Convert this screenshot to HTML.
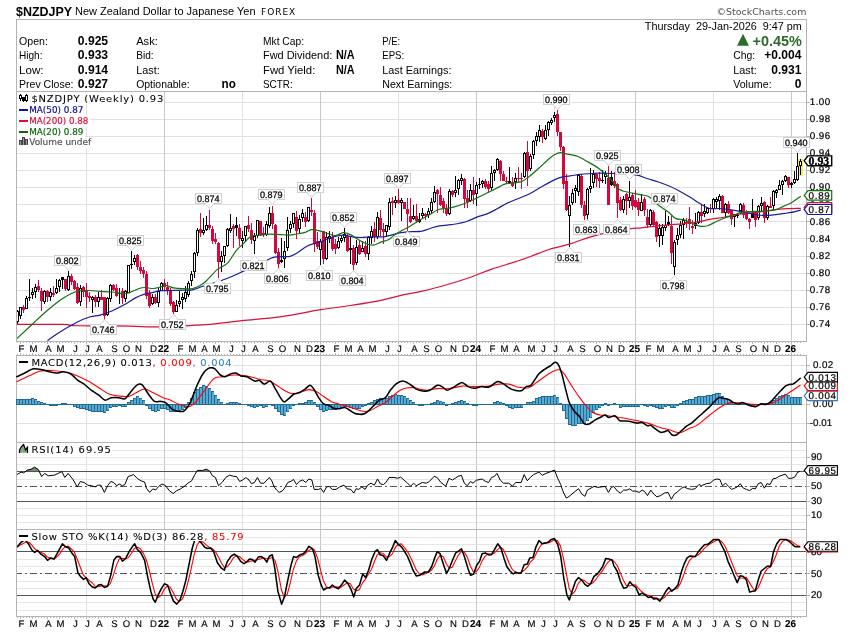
<!DOCTYPE html>
<html><head><meta charset="utf-8"><title>$NZDJPY - StockCharts</title>
<style>html,body{margin:0;padding:0;background:#fff;width:850px;height:633px;overflow:hidden}svg text{white-space:pre}</style></head>
<body>
<svg width="850" height="633" viewBox="0 0 850 633" style="position:absolute;left:0;top:0;will-change:transform">
<g shape-rendering="crispEdges" fill="none" stroke-width="1">
<path d="M17 102.5 H806" stroke="#e1e1e1"/>
<path d="M17 119.5 H806" stroke="#e1e1e1"/>
<path d="M17 136.5 H806" stroke="#e1e1e1"/>
<path d="M17 153.5 H806" stroke="#e1e1e1"/>
<path d="M17 170.5 H806" stroke="#e1e1e1"/>
<path d="M17 187.5 H806" stroke="#e1e1e1"/>
<path d="M17 204.5 H806" stroke="#e1e1e1"/>
<path d="M17 221.5 H806" stroke="#e1e1e1"/>
<path d="M17 238.5 H806" stroke="#e1e1e1"/>
<path d="M17 256.5 H806" stroke="#e1e1e1"/>
<path d="M17 273.5 H806" stroke="#e1e1e1"/>
<path d="M17 290.5 H806" stroke="#e1e1e1"/>
<path d="M17 307.5 H806" stroke="#e1e1e1"/>
<path d="M17 324.5 H806" stroke="#e1e1e1"/>
<path d="M17 365.5 H806" stroke="#e1e1e1"/>
<path d="M17 384.5 H806" stroke="#e1e1e1"/>
<path d="M17 404.5 H806" stroke="#e1e1e1"/>
<path d="M17 423.5 H806" stroke="#e1e1e1"/>
<path d="M17 522.5 H806" stroke="#e6e6e6"/>
<path d="M17 515.5 H806" stroke="#e6e6e6"/>
<path d="M17 508.5 H806" stroke="#e6e6e6"/>
<path d="M17 493.5 H806" stroke="#e6e6e6"/>
<path d="M17 479.5 H806" stroke="#e6e6e6"/>
<path d="M17 464.5 H806" stroke="#e6e6e6"/>
<path d="M17 457.5 H806" stroke="#e6e6e6"/>
<path d="M17 450.5 H806" stroke="#e6e6e6"/>
<path d="M17 610.5 H806" stroke="#e6e6e6"/>
<path d="M17 602.5 H806" stroke="#e6e6e6"/>
<path d="M17 588.5 H806" stroke="#e6e6e6"/>
<path d="M17 581.5 H806" stroke="#e6e6e6"/>
<path d="M17 566.5 H806" stroke="#e6e6e6"/>
<path d="M17 559.5 H806" stroke="#e6e6e6"/>
<path d="M17 544.5 H806" stroke="#e6e6e6"/>
<path d="M17 537.5 H806" stroke="#e6e6e6"/>
<path d="M86.5 92 V616" stroke="#e1e1e1"/>
<path d="M164.5 92 V616" stroke="#c9c9c9"/>
<path d="M242.5 92 V616" stroke="#e1e1e1"/>
<path d="M320.5 92 V616" stroke="#c9c9c9"/>
<path d="M398.5 92 V616" stroke="#e1e1e1"/>
<path d="M476.5 92 V616" stroke="#c9c9c9"/>
<path d="M554.5 92 V616" stroke="#e1e1e1"/>
<path d="M635.5 92 V616" stroke="#c9c9c9"/>
<path d="M713.5 92 V616" stroke="#e1e1e1"/>
<path d="M791.5 92 V616" stroke="#c9c9c9"/>
</g>
<g shape-rendering="crispEdges" fill="none" stroke="#b4b4b4" stroke-width="1">
<path d="M16.5 19.5 H806.5 V341.5 H16.5 Z"/>
<path d="M16.5 355.5 H806.5 V616.5 H16.5 Z"/>
<path d="M16.5 91.5 H806.5"/>
<path d="M16.5 442.5 H806.5"/>
<path d="M16.5 529.5 H806.5"/>
</g>
<path d="M17.5 342 v1 M17.5 355 v-1 M17.5 617 v1 M20.5 342 v2 M20.5 355 v-2 M20.5 617 v2 M23.5 342 v1 M23.5 355 v-1 M23.5 617 v1 M26.5 342 v1 M26.5 355 v-1 M26.5 617 v1 M29.5 342 v1 M29.5 355 v-1 M29.5 617 v1 M32.5 342 v2 M32.5 355 v-2 M32.5 617 v2 M35.5 342 v1 M35.5 355 v-1 M35.5 617 v1 M38.5 342 v1 M38.5 355 v-1 M38.5 617 v1 M41.5 342 v1 M41.5 355 v-1 M41.5 617 v1 M44.5 342 v1 M44.5 355 v-1 M44.5 617 v1 M47.5 342 v2 M47.5 355 v-2 M47.5 617 v2 M50.5 342 v1 M50.5 355 v-1 M50.5 617 v1 M53.5 342 v1 M53.5 355 v-1 M53.5 617 v1 M56.5 342 v1 M56.5 355 v-1 M56.5 617 v1 M59.5 342 v2 M59.5 355 v-2 M59.5 617 v2 M62.5 342 v1 M62.5 355 v-1 M62.5 617 v1 M65.5 342 v1 M65.5 355 v-1 M65.5 617 v1 M68.5 342 v1 M68.5 355 v-1 M68.5 617 v1 M71.5 342 v1 M71.5 355 v-1 M71.5 617 v1 M74.5 342 v2 M74.5 355 v-2 M74.5 617 v2 M77.5 342 v1 M77.5 355 v-1 M77.5 617 v1 M80.5 342 v1 M80.5 355 v-1 M80.5 617 v1 M83.5 342 v1 M83.5 355 v-1 M83.5 617 v1 M86.5 342 v2 M86.5 355 v-2 M86.5 617 v2 M89.5 342 v1 M89.5 355 v-1 M89.5 617 v1 M92.5 342 v1 M92.5 355 v-1 M92.5 617 v1 M95.5 342 v1 M95.5 355 v-1 M95.5 617 v1 M98.5 342 v2 M98.5 355 v-2 M98.5 617 v2 M101.5 342 v1 M101.5 355 v-1 M101.5 617 v1 M104.5 342 v1 M104.5 355 v-1 M104.5 617 v1 M107.5 342 v1 M107.5 355 v-1 M107.5 617 v1 M110.5 342 v1 M110.5 355 v-1 M110.5 617 v1 M113.5 342 v2 M113.5 355 v-2 M113.5 617 v2 M116.5 342 v1 M116.5 355 v-1 M116.5 617 v1 M119.5 342 v1 M119.5 355 v-1 M119.5 617 v1 M122.5 342 v1 M122.5 355 v-1 M122.5 617 v1 M125.5 342 v2 M125.5 355 v-2 M125.5 617 v2 M128.5 342 v1 M128.5 355 v-1 M128.5 617 v1 M131.5 342 v1 M131.5 355 v-1 M131.5 617 v1 M134.5 342 v1 M134.5 355 v-1 M134.5 617 v1 M137.5 342 v2 M137.5 355 v-2 M137.5 617 v2 M140.5 342 v1 M140.5 355 v-1 M140.5 617 v1 M143.5 342 v1 M143.5 355 v-1 M143.5 617 v1 M146.5 342 v1 M146.5 355 v-1 M146.5 617 v1 M149.5 342 v1 M149.5 355 v-1 M149.5 617 v1 M152.5 342 v2 M152.5 355 v-2 M152.5 617 v2 M155.5 342 v1 M155.5 355 v-1 M155.5 617 v1 M158.5 342 v1 M158.5 355 v-1 M158.5 617 v1 M161.5 342 v1 M161.5 355 v-1 M161.5 617 v1 M164.5 342 v2 M164.5 355 v-2 M164.5 617 v2 M167.5 342 v1 M167.5 355 v-1 M167.5 617 v1 M170.5 342 v1 M170.5 355 v-1 M170.5 617 v1 M173.5 342 v1 M173.5 355 v-1 M173.5 617 v1 M176.5 342 v1 M176.5 355 v-1 M176.5 617 v1 M179.5 342 v2 M179.5 355 v-2 M179.5 617 v2 M182.5 342 v1 M182.5 355 v-1 M182.5 617 v1 M185.5 342 v1 M185.5 355 v-1 M185.5 617 v1 M188.5 342 v1 M188.5 355 v-1 M188.5 617 v1 M191.5 342 v2 M191.5 355 v-2 M191.5 617 v2 M194.5 342 v1 M194.5 355 v-1 M194.5 617 v1 M197.5 342 v1 M197.5 355 v-1 M197.5 617 v1 M200.5 342 v1 M200.5 355 v-1 M200.5 617 v1 M203.5 342 v2 M203.5 355 v-2 M203.5 617 v2 M206.5 342 v1 M206.5 355 v-1 M206.5 617 v1 M209.5 342 v1 M209.5 355 v-1 M209.5 617 v1 M212.5 342 v1 M212.5 355 v-1 M212.5 617 v1 M215.5 342 v2 M215.5 355 v-2 M215.5 617 v2 M218.5 342 v1 M218.5 355 v-1 M218.5 617 v1 M221.5 342 v1 M221.5 355 v-1 M221.5 617 v1 M224.5 342 v1 M224.5 355 v-1 M224.5 617 v1 M227.5 342 v1 M227.5 355 v-1 M227.5 617 v1 M230.5 342 v2 M230.5 355 v-2 M230.5 617 v2 M233.5 342 v1 M233.5 355 v-1 M233.5 617 v1 M236.5 342 v1 M236.5 355 v-1 M236.5 617 v1 M239.5 342 v1 M239.5 355 v-1 M239.5 617 v1 M242.5 342 v2 M242.5 355 v-2 M242.5 617 v2 M245.5 342 v1 M245.5 355 v-1 M245.5 617 v1 M248.5 342 v1 M248.5 355 v-1 M248.5 617 v1 M251.5 342 v1 M251.5 355 v-1 M251.5 617 v1 M254.5 342 v2 M254.5 355 v-2 M254.5 617 v2 M257.5 342 v1 M257.5 355 v-1 M257.5 617 v1 M260.5 342 v1 M260.5 355 v-1 M260.5 617 v1 M263.5 342 v1 M263.5 355 v-1 M263.5 617 v1 M266.5 342 v1 M266.5 355 v-1 M266.5 617 v1 M269.5 342 v2 M269.5 355 v-2 M269.5 617 v2 M272.5 342 v1 M272.5 355 v-1 M272.5 617 v1 M275.5 342 v1 M275.5 355 v-1 M275.5 617 v1 M278.5 342 v1 M278.5 355 v-1 M278.5 617 v1 M281.5 342 v2 M281.5 355 v-2 M281.5 617 v2 M284.5 342 v1 M284.5 355 v-1 M284.5 617 v1 M287.5 342 v1 M287.5 355 v-1 M287.5 617 v1 M290.5 342 v1 M290.5 355 v-1 M290.5 617 v1 M293.5 342 v1 M293.5 355 v-1 M293.5 617 v1 M296.5 342 v2 M296.5 355 v-2 M296.5 617 v2 M299.5 342 v1 M299.5 355 v-1 M299.5 617 v1 M302.5 342 v1 M302.5 355 v-1 M302.5 617 v1 M305.5 342 v1 M305.5 355 v-1 M305.5 617 v1 M308.5 342 v2 M308.5 355 v-2 M308.5 617 v2 M311.5 342 v1 M311.5 355 v-1 M311.5 617 v1 M314.5 342 v1 M314.5 355 v-1 M314.5 617 v1 M317.5 342 v1 M317.5 355 v-1 M317.5 617 v1 M320.5 342 v2 M320.5 355 v-2 M320.5 617 v2 M323.5 342 v1 M323.5 355 v-1 M323.5 617 v1 M326.5 342 v1 M326.5 355 v-1 M326.5 617 v1 M329.5 342 v1 M329.5 355 v-1 M329.5 617 v1 M332.5 342 v1 M332.5 355 v-1 M332.5 617 v1 M335.5 342 v2 M335.5 355 v-2 M335.5 617 v2 M338.5 342 v1 M338.5 355 v-1 M338.5 617 v1 M341.5 342 v1 M341.5 355 v-1 M341.5 617 v1 M344.5 342 v1 M344.5 355 v-1 M344.5 617 v1 M347.5 342 v2 M347.5 355 v-2 M347.5 617 v2 M350.5 342 v1 M350.5 355 v-1 M350.5 617 v1 M353.5 342 v1 M353.5 355 v-1 M353.5 617 v1 M356.5 342 v1 M356.5 355 v-1 M356.5 617 v1 M359.5 342 v2 M359.5 355 v-2 M359.5 617 v2 M362.5 342 v1 M362.5 355 v-1 M362.5 617 v1 M365.5 342 v1 M365.5 355 v-1 M365.5 617 v1 M368.5 342 v1 M368.5 355 v-1 M368.5 617 v1 M371.5 342 v2 M371.5 355 v-2 M371.5 617 v2 M374.5 342 v1 M374.5 355 v-1 M374.5 617 v1 M377.5 342 v1 M377.5 355 v-1 M377.5 617 v1 M380.5 342 v1 M380.5 355 v-1 M380.5 617 v1 M383.5 342 v1 M383.5 355 v-1 M383.5 617 v1 M386.5 342 v2 M386.5 355 v-2 M386.5 617 v2 M389.5 342 v1 M389.5 355 v-1 M389.5 617 v1 M392.5 342 v1 M392.5 355 v-1 M392.5 617 v1 M395.5 342 v1 M395.5 355 v-1 M395.5 617 v1 M398.5 342 v2 M398.5 355 v-2 M398.5 617 v2 M401.5 342 v1 M401.5 355 v-1 M401.5 617 v1 M404.5 342 v1 M404.5 355 v-1 M404.5 617 v1 M407.5 342 v1 M407.5 355 v-1 M407.5 617 v1 M410.5 342 v1 M410.5 355 v-1 M410.5 617 v1 M413.5 342 v2 M413.5 355 v-2 M413.5 617 v2 M416.5 342 v1 M416.5 355 v-1 M416.5 617 v1 M419.5 342 v1 M419.5 355 v-1 M419.5 617 v1 M422.5 342 v1 M422.5 355 v-1 M422.5 617 v1 M425.5 342 v2 M425.5 355 v-2 M425.5 617 v2 M428.5 342 v1 M428.5 355 v-1 M428.5 617 v1 M431.5 342 v1 M431.5 355 v-1 M431.5 617 v1 M434.5 342 v1 M434.5 355 v-1 M434.5 617 v1 M437.5 342 v2 M437.5 355 v-2 M437.5 617 v2 M440.5 342 v1 M440.5 355 v-1 M440.5 617 v1 M443.5 342 v1 M443.5 355 v-1 M443.5 617 v1 M446.5 342 v1 M446.5 355 v-1 M446.5 617 v1 M449.5 342 v1 M449.5 355 v-1 M449.5 617 v1 M452.5 342 v2 M452.5 355 v-2 M452.5 617 v2 M455.5 342 v1 M455.5 355 v-1 M455.5 617 v1 M458.5 342 v1 M458.5 355 v-1 M458.5 617 v1 M461.5 342 v1 M461.5 355 v-1 M461.5 617 v1 M464.5 342 v2 M464.5 355 v-2 M464.5 617 v2 M467.5 342 v1 M467.5 355 v-1 M467.5 617 v1 M470.5 342 v1 M470.5 355 v-1 M470.5 617 v1 M473.5 342 v1 M473.5 355 v-1 M473.5 617 v1 M476.5 342 v2 M476.5 355 v-2 M476.5 617 v2 M479.5 342 v1 M479.5 355 v-1 M479.5 617 v1 M482.5 342 v1 M482.5 355 v-1 M482.5 617 v1 M485.5 342 v1 M485.5 355 v-1 M485.5 617 v1 M488.5 342 v1 M488.5 355 v-1 M488.5 617 v1 M491.5 342 v2 M491.5 355 v-2 M491.5 617 v2 M494.5 342 v1 M494.5 355 v-1 M494.5 617 v1 M497.5 342 v1 M497.5 355 v-1 M497.5 617 v1 M500.5 342 v1 M500.5 355 v-1 M500.5 617 v1 M503.5 342 v2 M503.5 355 v-2 M503.5 617 v2 M506.5 342 v1 M506.5 355 v-1 M506.5 617 v1 M509.5 342 v1 M509.5 355 v-1 M509.5 617 v1 M512.5 342 v1 M512.5 355 v-1 M512.5 617 v1 M515.5 342 v2 M515.5 355 v-2 M515.5 617 v2 M518.5 342 v1 M518.5 355 v-1 M518.5 617 v1 M521.5 342 v1 M521.5 355 v-1 M521.5 617 v1 M524.5 342 v1 M524.5 355 v-1 M524.5 617 v1 M527.5 342 v1 M527.5 355 v-1 M527.5 617 v1 M530.5 342 v2 M530.5 355 v-2 M530.5 617 v2 M533.5 342 v1 M533.5 355 v-1 M533.5 617 v1 M536.5 342 v1 M536.5 355 v-1 M536.5 617 v1 M539.5 342 v1 M539.5 355 v-1 M539.5 617 v1 M542.5 342 v2 M542.5 355 v-2 M542.5 617 v2 M545.5 342 v1 M545.5 355 v-1 M545.5 617 v1 M548.5 342 v1 M548.5 355 v-1 M548.5 617 v1 M551.5 342 v1 M551.5 355 v-1 M551.5 617 v1 M554.5 342 v2 M554.5 355 v-2 M554.5 617 v2 M557.5 342 v1 M557.5 355 v-1 M557.5 617 v1 M560.5 342 v1 M560.5 355 v-1 M560.5 617 v1 M563.5 342 v1 M563.5 355 v-1 M563.5 617 v1 M566.5 342 v1 M566.5 355 v-1 M566.5 617 v1 M569.5 342 v2 M569.5 355 v-2 M569.5 617 v2 M572.5 342 v1 M572.5 355 v-1 M572.5 617 v1 M575.5 342 v1 M575.5 355 v-1 M575.5 617 v1 M578.5 342 v1 M578.5 355 v-1 M578.5 617 v1 M581.5 342 v2 M581.5 355 v-2 M581.5 617 v2 M584.5 342 v1 M584.5 355 v-1 M584.5 617 v1 M587.5 342 v1 M587.5 355 v-1 M587.5 617 v1 M590.5 342 v1 M590.5 355 v-1 M590.5 617 v1 M593.5 342 v1 M593.5 355 v-1 M593.5 617 v1 M596.5 342 v2 M596.5 355 v-2 M596.5 617 v2 M599.5 342 v1 M599.5 355 v-1 M599.5 617 v1 M602.5 342 v1 M602.5 355 v-1 M602.5 617 v1 M605.5 342 v1 M605.5 355 v-1 M605.5 617 v1 M608.5 342 v2 M608.5 355 v-2 M608.5 617 v2 M611.5 342 v1 M611.5 355 v-1 M611.5 617 v1 M614.5 342 v1 M614.5 355 v-1 M614.5 617 v1 M617.5 342 v1 M617.5 355 v-1 M617.5 617 v1 M620.5 342 v2 M620.5 355 v-2 M620.5 617 v2 M623.5 342 v1 M623.5 355 v-1 M623.5 617 v1 M626.5 342 v1 M626.5 355 v-1 M626.5 617 v1 M629.5 342 v1 M629.5 355 v-1 M629.5 617 v1 M632.5 342 v1 M632.5 355 v-1 M632.5 617 v1 M635.5 342 v2 M635.5 355 v-2 M635.5 617 v2 M638.5 342 v1 M638.5 355 v-1 M638.5 617 v1 M641.5 342 v1 M641.5 355 v-1 M641.5 617 v1 M644.5 342 v1 M644.5 355 v-1 M644.5 617 v1 M647.5 342 v2 M647.5 355 v-2 M647.5 617 v2 M650.5 342 v1 M650.5 355 v-1 M650.5 617 v1 M653.5 342 v1 M653.5 355 v-1 M653.5 617 v1 M656.5 342 v1 M656.5 355 v-1 M656.5 617 v1 M659.5 342 v2 M659.5 355 v-2 M659.5 617 v2 M662.5 342 v1 M662.5 355 v-1 M662.5 617 v1 M665.5 342 v1 M665.5 355 v-1 M665.5 617 v1 M668.5 342 v1 M668.5 355 v-1 M668.5 617 v1 M671.5 342 v1 M671.5 355 v-1 M671.5 617 v1 M674.5 342 v2 M674.5 355 v-2 M674.5 617 v2 M677.5 342 v1 M677.5 355 v-1 M677.5 617 v1 M680.5 342 v1 M680.5 355 v-1 M680.5 617 v1 M683.5 342 v1 M683.5 355 v-1 M683.5 617 v1 M686.5 342 v2 M686.5 355 v-2 M686.5 617 v2 M689.5 342 v1 M689.5 355 v-1 M689.5 617 v1 M692.5 342 v1 M692.5 355 v-1 M692.5 617 v1 M695.5 342 v1 M695.5 355 v-1 M695.5 617 v1 M698.5 342 v2 M698.5 355 v-2 M698.5 617 v2 M701.5 342 v1 M701.5 355 v-1 M701.5 617 v1 M704.5 342 v1 M704.5 355 v-1 M704.5 617 v1 M707.5 342 v1 M707.5 355 v-1 M707.5 617 v1 M710.5 342 v1 M710.5 355 v-1 M710.5 617 v1 M713.5 342 v2 M713.5 355 v-2 M713.5 617 v2 M716.5 342 v1 M716.5 355 v-1 M716.5 617 v1 M719.5 342 v1 M719.5 355 v-1 M719.5 617 v1 M722.5 342 v1 M722.5 355 v-1 M722.5 617 v1 M725.5 342 v2 M725.5 355 v-2 M725.5 617 v2 M728.5 342 v1 M728.5 355 v-1 M728.5 617 v1 M731.5 342 v1 M731.5 355 v-1 M731.5 617 v1 M734.5 342 v1 M734.5 355 v-1 M734.5 617 v1 M737.5 342 v2 M737.5 355 v-2 M737.5 617 v2 M740.5 342 v1 M740.5 355 v-1 M740.5 617 v1 M743.5 342 v1 M743.5 355 v-1 M743.5 617 v1 M746.5 342 v1 M746.5 355 v-1 M746.5 617 v1 M749.5 342 v1 M749.5 355 v-1 M749.5 617 v1 M752.5 342 v2 M752.5 355 v-2 M752.5 617 v2 M755.5 342 v1 M755.5 355 v-1 M755.5 617 v1 M758.5 342 v1 M758.5 355 v-1 M758.5 617 v1 M761.5 342 v1 M761.5 355 v-1 M761.5 617 v1 M764.5 342 v2 M764.5 355 v-2 M764.5 617 v2 M767.5 342 v1 M767.5 355 v-1 M767.5 617 v1 M770.5 342 v1 M770.5 355 v-1 M770.5 617 v1 M773.5 342 v1 M773.5 355 v-1 M773.5 617 v1 M776.5 342 v2 M776.5 355 v-2 M776.5 617 v2 M779.5 342 v1 M779.5 355 v-1 M779.5 617 v1 M782.5 342 v1 M782.5 355 v-1 M782.5 617 v1 M785.5 342 v1 M785.5 355 v-1 M785.5 617 v1 M788.5 342 v1 M788.5 355 v-1 M788.5 617 v1 M791.5 342 v2 M791.5 355 v-2 M791.5 617 v2 M794.5 342 v1 M794.5 355 v-1 M794.5 617 v1 M797.5 342 v1 M797.5 355 v-1 M797.5 617 v1 M800.5 342 v1 M800.5 355 v-1 M800.5 617 v1" stroke="#b4b4b4" stroke-width="1" shape-rendering="crispEdges"/>
<path d="M807 102.5 h3 M807 119.5 h3 M807 136.5 h3 M807 153.5 h3 M807 170.5 h3 M807 187.5 h3 M807 204.5 h3 M807 221.5 h3 M807 238.5 h3 M807 256.5 h3 M807 273.5 h3 M807 290.5 h3 M807 307.5 h3 M807 324.5 h3 M807 365.5 h3 M807 384.5 h3 M807 404.5 h3 M807 423.5 h3 M807 457.5 h3 M807 471.5 h3 M807 486.5 h3 M807 501.5 h3 M807 515.5 h3 M807 552.5 h3 M807 573.5 h3 M807 595.5 h3" stroke="#b4b4b4" stroke-width="1" shape-rendering="crispEdges"/>
<rect x="798" y="159" width="5" height="17" fill="#f5ee5a" shape-rendering="crispEdges"/>
<clipPath id="cc"><rect x="17" y="92" width="789" height="249"/></clipPath>
<g shape-rendering="crispEdges" clip-path="url(#cc)">
<rect x="17" y="310" width="1" height="14" fill="#000"/>
<rect x="16" y="311" width="3" height="11" fill="#000"/>
<rect x="17" y="312" width="1" height="9" fill="#fff"/>
<rect x="20" y="307" width="1" height="12" fill="#000"/>
<rect x="19" y="307" width="3" height="9" fill="#000"/>
<rect x="20" y="308" width="1" height="7" fill="#fff"/>
<rect x="23" y="305" width="1" height="8" fill="#d4083c"/>
<rect x="22" y="307" width="3" height="3" fill="#d4083c"/>
<rect x="26" y="296" width="1" height="13" fill="#000"/>
<rect x="25" y="298" width="3" height="11" fill="#000"/>
<rect x="26" y="299" width="1" height="9" fill="#fff"/>
<rect x="29" y="279" width="1" height="22" fill="#000"/>
<rect x="28" y="297" width="3" height="1" fill="#000"/>
<rect x="32" y="288" width="1" height="11" fill="#000"/>
<rect x="31" y="292" width="3" height="3" fill="#000"/>
<rect x="32" y="293" width="1" height="1" fill="#fff"/>
<rect x="35" y="284" width="1" height="14" fill="#000"/>
<rect x="34" y="287" width="3" height="5" fill="#000"/>
<rect x="35" y="288" width="1" height="3" fill="#fff"/>
<rect x="38" y="280" width="1" height="12" fill="#d4083c"/>
<rect x="37" y="286" width="3" height="4" fill="#d4083c"/>
<rect x="41" y="288" width="1" height="23" fill="#d4083c"/>
<rect x="40" y="291" width="3" height="10" fill="#d4083c"/>
<rect x="44" y="290" width="1" height="14" fill="#000"/>
<rect x="43" y="291" width="3" height="11" fill="#000"/>
<rect x="44" y="292" width="1" height="9" fill="#fff"/>
<rect x="47" y="290" width="1" height="12" fill="#d4083c"/>
<rect x="46" y="291" width="3" height="6" fill="#d4083c"/>
<rect x="50" y="288" width="1" height="13" fill="#000"/>
<rect x="49" y="292" width="3" height="5" fill="#000"/>
<rect x="50" y="293" width="1" height="3" fill="#fff"/>
<rect x="53" y="286" width="1" height="11" fill="#d4083c"/>
<rect x="52" y="293" width="3" height="2" fill="#d4083c"/>
<rect x="56" y="279" width="1" height="15" fill="#000"/>
<rect x="55" y="288" width="3" height="5" fill="#000"/>
<rect x="56" y="289" width="1" height="3" fill="#fff"/>
<rect x="59" y="279" width="1" height="13" fill="#000"/>
<rect x="58" y="280" width="3" height="7" fill="#000"/>
<rect x="59" y="281" width="1" height="5" fill="#fff"/>
<rect x="62" y="277" width="1" height="12" fill="#000"/>
<rect x="61" y="277" width="3" height="3" fill="#000"/>
<rect x="65" y="279" width="1" height="12" fill="#d4083c"/>
<rect x="64" y="279" width="3" height="10" fill="#d4083c"/>
<rect x="68" y="271" width="1" height="20" fill="#000"/>
<rect x="67" y="276" width="3" height="14" fill="#000"/>
<rect x="68" y="277" width="1" height="12" fill="#fff"/>
<rect x="71" y="274" width="1" height="11" fill="#d4083c"/>
<rect x="70" y="276" width="3" height="6" fill="#d4083c"/>
<rect x="74" y="280" width="1" height="10" fill="#d4083c"/>
<rect x="73" y="281" width="3" height="8" fill="#d4083c"/>
<rect x="77" y="283" width="1" height="21" fill="#d4083c"/>
<rect x="76" y="287" width="3" height="16" fill="#d4083c"/>
<rect x="80" y="285" width="1" height="21" fill="#000"/>
<rect x="79" y="288" width="3" height="14" fill="#000"/>
<rect x="80" y="289" width="1" height="12" fill="#fff"/>
<rect x="83" y="286" width="1" height="11" fill="#d4083c"/>
<rect x="82" y="287" width="3" height="5" fill="#d4083c"/>
<rect x="86" y="283" width="1" height="25" fill="#d4083c"/>
<rect x="85" y="291" width="3" height="6" fill="#d4083c"/>
<rect x="89" y="292" width="1" height="10" fill="#d4083c"/>
<rect x="88" y="296" width="3" height="2" fill="#d4083c"/>
<rect x="92" y="296" width="1" height="17" fill="#000"/>
<rect x="91" y="297" width="3" height="3" fill="#000"/>
<rect x="92" y="298" width="1" height="1" fill="#fff"/>
<rect x="95" y="295" width="1" height="12" fill="#d4083c"/>
<rect x="94" y="297" width="3" height="5" fill="#d4083c"/>
<rect x="98" y="292" width="1" height="15" fill="#000"/>
<rect x="97" y="297" width="3" height="5" fill="#000"/>
<rect x="98" y="298" width="1" height="3" fill="#fff"/>
<rect x="101" y="290" width="1" height="10" fill="#d4083c"/>
<rect x="100" y="297" width="3" height="3" fill="#d4083c"/>
<rect x="104" y="297" width="1" height="23" fill="#d4083c"/>
<rect x="103" y="297" width="3" height="19" fill="#d4083c"/>
<rect x="107" y="297" width="1" height="19" fill="#000"/>
<rect x="106" y="298" width="3" height="17" fill="#000"/>
<rect x="107" y="299" width="1" height="15" fill="#fff"/>
<rect x="110" y="284" width="1" height="18" fill="#000"/>
<rect x="109" y="285" width="3" height="14" fill="#000"/>
<rect x="110" y="286" width="1" height="12" fill="#fff"/>
<rect x="113" y="284" width="1" height="7" fill="#d4083c"/>
<rect x="112" y="285" width="3" height="5" fill="#d4083c"/>
<rect x="116" y="284" width="1" height="13" fill="#d4083c"/>
<rect x="115" y="288" width="3" height="8" fill="#d4083c"/>
<rect x="119" y="288" width="1" height="16" fill="#000"/>
<rect x="118" y="293" width="3" height="1" fill="#000"/>
<rect x="122" y="288" width="1" height="16" fill="#d4083c"/>
<rect x="121" y="291" width="3" height="7" fill="#d4083c"/>
<rect x="125" y="290" width="1" height="12" fill="#000"/>
<rect x="124" y="291" width="3" height="8" fill="#000"/>
<rect x="125" y="292" width="1" height="6" fill="#fff"/>
<rect x="128" y="265" width="1" height="28" fill="#000"/>
<rect x="127" y="265" width="3" height="28" fill="#000"/>
<rect x="128" y="266" width="1" height="26" fill="#fff"/>
<rect x="131" y="251" width="1" height="18" fill="#000"/>
<rect x="130" y="264" width="3" height="1" fill="#000"/>
<rect x="134" y="255" width="1" height="10" fill="#000"/>
<rect x="133" y="258" width="3" height="4" fill="#000"/>
<rect x="134" y="259" width="1" height="2" fill="#fff"/>
<rect x="137" y="254" width="1" height="16" fill="#d4083c"/>
<rect x="136" y="255" width="3" height="12" fill="#d4083c"/>
<rect x="140" y="261" width="1" height="13" fill="#d4083c"/>
<rect x="139" y="267" width="3" height="4" fill="#d4083c"/>
<rect x="143" y="267" width="1" height="11" fill="#d4083c"/>
<rect x="142" y="270" width="3" height="4" fill="#d4083c"/>
<rect x="146" y="271" width="1" height="28" fill="#d4083c"/>
<rect x="145" y="274" width="3" height="22" fill="#d4083c"/>
<rect x="149" y="290" width="1" height="18" fill="#d4083c"/>
<rect x="148" y="293" width="3" height="13" fill="#d4083c"/>
<rect x="152" y="294" width="1" height="11" fill="#000"/>
<rect x="151" y="297" width="3" height="7" fill="#000"/>
<rect x="152" y="298" width="1" height="5" fill="#fff"/>
<rect x="155" y="294" width="1" height="10" fill="#d4083c"/>
<rect x="154" y="297" width="3" height="6" fill="#d4083c"/>
<rect x="158" y="287" width="1" height="20" fill="#000"/>
<rect x="157" y="291" width="3" height="12" fill="#000"/>
<rect x="158" y="292" width="1" height="10" fill="#fff"/>
<rect x="161" y="282" width="1" height="9" fill="#000"/>
<rect x="160" y="283" width="3" height="8" fill="#000"/>
<rect x="161" y="284" width="1" height="6" fill="#fff"/>
<rect x="164" y="279" width="1" height="12" fill="#d4083c"/>
<rect x="163" y="283" width="3" height="4" fill="#d4083c"/>
<rect x="167" y="282" width="1" height="13" fill="#d4083c"/>
<rect x="166" y="287" width="3" height="4" fill="#d4083c"/>
<rect x="170" y="288" width="1" height="18" fill="#d4083c"/>
<rect x="169" y="291" width="3" height="13" fill="#d4083c"/>
<rect x="173" y="301" width="1" height="13" fill="#d4083c"/>
<rect x="172" y="302" width="3" height="10" fill="#d4083c"/>
<rect x="176" y="300" width="1" height="12" fill="#000"/>
<rect x="175" y="305" width="3" height="7" fill="#000"/>
<rect x="176" y="306" width="1" height="5" fill="#fff"/>
<rect x="179" y="291" width="1" height="16" fill="#000"/>
<rect x="178" y="301" width="3" height="3" fill="#000"/>
<rect x="179" y="302" width="1" height="1" fill="#fff"/>
<rect x="182" y="293" width="1" height="16" fill="#000"/>
<rect x="181" y="297" width="3" height="3" fill="#000"/>
<rect x="182" y="298" width="1" height="1" fill="#fff"/>
<rect x="185" y="286" width="1" height="16" fill="#000"/>
<rect x="184" y="292" width="3" height="7" fill="#000"/>
<rect x="185" y="293" width="1" height="5" fill="#fff"/>
<rect x="188" y="281" width="1" height="16" fill="#000"/>
<rect x="187" y="283" width="3" height="12" fill="#000"/>
<rect x="188" y="284" width="1" height="10" fill="#fff"/>
<rect x="191" y="271" width="1" height="15" fill="#000"/>
<rect x="190" y="274" width="3" height="7" fill="#000"/>
<rect x="191" y="275" width="1" height="5" fill="#fff"/>
<rect x="194" y="252" width="1" height="26" fill="#000"/>
<rect x="193" y="253" width="3" height="19" fill="#000"/>
<rect x="194" y="254" width="1" height="17" fill="#fff"/>
<rect x="197" y="228" width="1" height="28" fill="#000"/>
<rect x="196" y="230" width="3" height="23" fill="#000"/>
<rect x="197" y="231" width="1" height="21" fill="#fff"/>
<rect x="200" y="213" width="1" height="24" fill="#d4083c"/>
<rect x="199" y="229" width="3" height="4" fill="#d4083c"/>
<rect x="203" y="218" width="1" height="17" fill="#000"/>
<rect x="202" y="230" width="3" height="3" fill="#000"/>
<rect x="203" y="231" width="1" height="1" fill="#fff"/>
<rect x="206" y="216" width="1" height="15" fill="#000"/>
<rect x="205" y="225" width="3" height="5" fill="#000"/>
<rect x="206" y="226" width="1" height="3" fill="#fff"/>
<rect x="209" y="210" width="1" height="20" fill="#d4083c"/>
<rect x="208" y="225" width="3" height="3" fill="#d4083c"/>
<rect x="212" y="226" width="1" height="18" fill="#d4083c"/>
<rect x="211" y="229" width="3" height="12" fill="#d4083c"/>
<rect x="215" y="233" width="1" height="11" fill="#d4083c"/>
<rect x="214" y="239" width="3" height="3" fill="#d4083c"/>
<rect x="218" y="242" width="1" height="36" fill="#d4083c"/>
<rect x="217" y="243" width="3" height="19" fill="#d4083c"/>
<rect x="221" y="251" width="1" height="21" fill="#000"/>
<rect x="220" y="256" width="3" height="6" fill="#000"/>
<rect x="221" y="257" width="1" height="4" fill="#fff"/>
<rect x="224" y="246" width="1" height="17" fill="#000"/>
<rect x="223" y="246" width="3" height="10" fill="#000"/>
<rect x="224" y="247" width="1" height="8" fill="#fff"/>
<rect x="227" y="228" width="1" height="19" fill="#000"/>
<rect x="226" y="229" width="3" height="17" fill="#000"/>
<rect x="227" y="230" width="1" height="15" fill="#fff"/>
<rect x="230" y="214" width="1" height="19" fill="#000"/>
<rect x="229" y="228" width="3" height="3" fill="#000"/>
<rect x="230" y="229" width="1" height="1" fill="#fff"/>
<rect x="233" y="224" width="1" height="24" fill="#d4083c"/>
<rect x="232" y="226" width="3" height="3" fill="#d4083c"/>
<rect x="236" y="217" width="1" height="19" fill="#000"/>
<rect x="235" y="225" width="3" height="3" fill="#000"/>
<rect x="239" y="224" width="1" height="22" fill="#d4083c"/>
<rect x="238" y="228" width="3" height="11" fill="#d4083c"/>
<rect x="242" y="231" width="1" height="17" fill="#000"/>
<rect x="241" y="238" width="3" height="3" fill="#000"/>
<rect x="242" y="239" width="1" height="1" fill="#fff"/>
<rect x="245" y="226" width="1" height="15" fill="#000"/>
<rect x="244" y="226" width="3" height="10" fill="#000"/>
<rect x="245" y="227" width="1" height="8" fill="#fff"/>
<rect x="248" y="216" width="1" height="16" fill="#d4083c"/>
<rect x="247" y="225" width="3" height="4" fill="#d4083c"/>
<rect x="251" y="223" width="1" height="21" fill="#d4083c"/>
<rect x="250" y="230" width="3" height="10" fill="#d4083c"/>
<rect x="254" y="233" width="1" height="21" fill="#000"/>
<rect x="253" y="236" width="3" height="5" fill="#000"/>
<rect x="254" y="237" width="1" height="3" fill="#fff"/>
<rect x="257" y="220" width="1" height="18" fill="#000"/>
<rect x="256" y="220" width="3" height="16" fill="#000"/>
<rect x="257" y="221" width="1" height="14" fill="#fff"/>
<rect x="260" y="221" width="1" height="15" fill="#d4083c"/>
<rect x="259" y="221" width="3" height="14" fill="#d4083c"/>
<rect x="263" y="227" width="1" height="10" fill="#d4083c"/>
<rect x="262" y="233" width="3" height="2" fill="#d4083c"/>
<rect x="266" y="221" width="1" height="15" fill="#000"/>
<rect x="265" y="224" width="3" height="11" fill="#000"/>
<rect x="266" y="225" width="1" height="9" fill="#fff"/>
<rect x="269" y="207" width="1" height="21" fill="#000"/>
<rect x="268" y="213" width="3" height="13" fill="#000"/>
<rect x="269" y="214" width="1" height="11" fill="#fff"/>
<rect x="272" y="206" width="1" height="23" fill="#d4083c"/>
<rect x="271" y="213" width="3" height="11" fill="#d4083c"/>
<rect x="275" y="224" width="1" height="30" fill="#d4083c"/>
<rect x="274" y="225" width="3" height="28" fill="#d4083c"/>
<rect x="278" y="248" width="1" height="21" fill="#d4083c"/>
<rect x="277" y="252" width="3" height="12" fill="#d4083c"/>
<rect x="281" y="238" width="1" height="25" fill="#000"/>
<rect x="280" y="260" width="3" height="2" fill="#000"/>
<rect x="284" y="241" width="1" height="27" fill="#000"/>
<rect x="283" y="251" width="3" height="8" fill="#000"/>
<rect x="284" y="252" width="1" height="6" fill="#fff"/>
<rect x="287" y="217" width="1" height="34" fill="#000"/>
<rect x="286" y="230" width="3" height="18" fill="#000"/>
<rect x="287" y="231" width="1" height="16" fill="#fff"/>
<rect x="290" y="221" width="1" height="12" fill="#000"/>
<rect x="289" y="224" width="3" height="5" fill="#000"/>
<rect x="290" y="225" width="1" height="3" fill="#fff"/>
<rect x="293" y="213" width="1" height="15" fill="#000"/>
<rect x="292" y="213" width="3" height="11" fill="#000"/>
<rect x="293" y="214" width="1" height="9" fill="#fff"/>
<rect x="296" y="211" width="1" height="28" fill="#d4083c"/>
<rect x="295" y="217" width="3" height="14" fill="#d4083c"/>
<rect x="299" y="215" width="1" height="18" fill="#000"/>
<rect x="298" y="219" width="3" height="10" fill="#000"/>
<rect x="299" y="220" width="1" height="8" fill="#fff"/>
<rect x="302" y="209" width="1" height="13" fill="#000"/>
<rect x="301" y="213" width="3" height="5" fill="#000"/>
<rect x="302" y="214" width="1" height="3" fill="#fff"/>
<rect x="305" y="212" width="1" height="15" fill="#d4083c"/>
<rect x="304" y="217" width="3" height="5" fill="#d4083c"/>
<rect x="308" y="207" width="1" height="15" fill="#000"/>
<rect x="307" y="207" width="3" height="14" fill="#000"/>
<rect x="308" y="208" width="1" height="12" fill="#fff"/>
<rect x="311" y="198" width="1" height="18" fill="#d4083c"/>
<rect x="310" y="210" width="3" height="2" fill="#d4083c"/>
<rect x="314" y="210" width="1" height="42" fill="#d4083c"/>
<rect x="313" y="213" width="3" height="31" fill="#d4083c"/>
<rect x="317" y="232" width="1" height="17" fill="#d4083c"/>
<rect x="316" y="241" width="3" height="6" fill="#d4083c"/>
<rect x="320" y="239" width="1" height="26" fill="#000"/>
<rect x="319" y="241" width="3" height="9" fill="#000"/>
<rect x="320" y="242" width="1" height="7" fill="#fff"/>
<rect x="323" y="231" width="1" height="33" fill="#d4083c"/>
<rect x="322" y="231" width="3" height="28" fill="#d4083c"/>
<rect x="326" y="232" width="1" height="28" fill="#000"/>
<rect x="325" y="237" width="3" height="22" fill="#000"/>
<rect x="326" y="238" width="1" height="20" fill="#fff"/>
<rect x="329" y="231" width="1" height="12" fill="#000"/>
<rect x="328" y="236" width="3" height="3" fill="#000"/>
<rect x="329" y="237" width="1" height="1" fill="#fff"/>
<rect x="332" y="232" width="1" height="19" fill="#d4083c"/>
<rect x="331" y="237" width="3" height="12" fill="#d4083c"/>
<rect x="335" y="239" width="1" height="15" fill="#d4083c"/>
<rect x="334" y="244" width="3" height="5" fill="#d4083c"/>
<rect x="338" y="237" width="1" height="12" fill="#000"/>
<rect x="337" y="241" width="3" height="7" fill="#000"/>
<rect x="338" y="242" width="1" height="5" fill="#fff"/>
<rect x="341" y="235" width="1" height="8" fill="#000"/>
<rect x="340" y="238" width="3" height="3" fill="#000"/>
<rect x="341" y="239" width="1" height="1" fill="#fff"/>
<rect x="344" y="228" width="1" height="14" fill="#000"/>
<rect x="343" y="234" width="3" height="4" fill="#000"/>
<rect x="344" y="235" width="1" height="2" fill="#fff"/>
<rect x="347" y="234" width="1" height="18" fill="#d4083c"/>
<rect x="346" y="236" width="3" height="15" fill="#d4083c"/>
<rect x="350" y="237" width="1" height="27" fill="#000"/>
<rect x="349" y="248" width="3" height="2" fill="#000"/>
<rect x="353" y="245" width="1" height="25" fill="#d4083c"/>
<rect x="352" y="248" width="3" height="17" fill="#d4083c"/>
<rect x="356" y="240" width="1" height="25" fill="#000"/>
<rect x="355" y="247" width="3" height="16" fill="#000"/>
<rect x="356" y="248" width="1" height="14" fill="#fff"/>
<rect x="359" y="241" width="1" height="14" fill="#d4083c"/>
<rect x="358" y="245" width="3" height="9" fill="#d4083c"/>
<rect x="362" y="241" width="1" height="11" fill="#000"/>
<rect x="361" y="248" width="3" height="4" fill="#000"/>
<rect x="362" y="249" width="1" height="2" fill="#fff"/>
<rect x="365" y="241" width="1" height="16" fill="#d4083c"/>
<rect x="364" y="246" width="3" height="8" fill="#d4083c"/>
<rect x="368" y="236" width="1" height="24" fill="#000"/>
<rect x="367" y="237" width="3" height="17" fill="#000"/>
<rect x="368" y="238" width="1" height="15" fill="#fff"/>
<rect x="371" y="226" width="1" height="18" fill="#000"/>
<rect x="370" y="231" width="3" height="7" fill="#000"/>
<rect x="371" y="232" width="1" height="5" fill="#fff"/>
<rect x="374" y="222" width="1" height="20" fill="#d4083c"/>
<rect x="373" y="229" width="3" height="8" fill="#d4083c"/>
<rect x="377" y="212" width="1" height="27" fill="#000"/>
<rect x="376" y="217" width="3" height="20" fill="#000"/>
<rect x="377" y="218" width="1" height="18" fill="#fff"/>
<rect x="380" y="210" width="1" height="26" fill="#d4083c"/>
<rect x="379" y="218" width="3" height="12" fill="#d4083c"/>
<rect x="383" y="223" width="1" height="21" fill="#d4083c"/>
<rect x="382" y="229" width="3" height="3" fill="#d4083c"/>
<rect x="386" y="225" width="1" height="12" fill="#000"/>
<rect x="385" y="225" width="3" height="7" fill="#000"/>
<rect x="386" y="226" width="1" height="5" fill="#fff"/>
<rect x="389" y="198" width="1" height="32" fill="#000"/>
<rect x="388" y="202" width="3" height="25" fill="#000"/>
<rect x="389" y="203" width="1" height="23" fill="#fff"/>
<rect x="392" y="197" width="1" height="18" fill="#d4083c"/>
<rect x="391" y="201" width="3" height="2" fill="#d4083c"/>
<rect x="395" y="196" width="1" height="12" fill="#000"/>
<rect x="394" y="200" width="3" height="3" fill="#000"/>
<rect x="395" y="201" width="1" height="1" fill="#fff"/>
<rect x="398" y="189" width="1" height="15" fill="#d4083c"/>
<rect x="397" y="200" width="3" height="3" fill="#d4083c"/>
<rect x="401" y="198" width="1" height="23" fill="#000"/>
<rect x="400" y="200" width="3" height="3" fill="#000"/>
<rect x="401" y="201" width="1" height="1" fill="#fff"/>
<rect x="404" y="202" width="1" height="7" fill="#d4083c"/>
<rect x="403" y="202" width="3" height="7" fill="#d4083c"/>
<rect x="407" y="198" width="1" height="33" fill="#d4083c"/>
<rect x="406" y="209" width="3" height="5" fill="#d4083c"/>
<rect x="410" y="198" width="1" height="25" fill="#d4083c"/>
<rect x="409" y="216" width="3" height="6" fill="#d4083c"/>
<rect x="413" y="205" width="1" height="15" fill="#000"/>
<rect x="412" y="216" width="3" height="3" fill="#000"/>
<rect x="413" y="217" width="1" height="1" fill="#fff"/>
<rect x="416" y="204" width="1" height="19" fill="#d4083c"/>
<rect x="415" y="216" width="3" height="5" fill="#d4083c"/>
<rect x="419" y="213" width="1" height="10" fill="#000"/>
<rect x="418" y="219" width="3" height="3" fill="#000"/>
<rect x="419" y="220" width="1" height="1" fill="#fff"/>
<rect x="422" y="208" width="1" height="10" fill="#000"/>
<rect x="421" y="213" width="3" height="3" fill="#000"/>
<rect x="422" y="214" width="1" height="1" fill="#fff"/>
<rect x="425" y="213" width="1" height="7" fill="#d4083c"/>
<rect x="424" y="214" width="3" height="2" fill="#d4083c"/>
<rect x="428" y="208" width="1" height="10" fill="#000"/>
<rect x="427" y="211" width="3" height="4" fill="#000"/>
<rect x="428" y="212" width="1" height="2" fill="#fff"/>
<rect x="431" y="198" width="1" height="16" fill="#000"/>
<rect x="430" y="202" width="3" height="9" fill="#000"/>
<rect x="431" y="203" width="1" height="7" fill="#fff"/>
<rect x="434" y="186" width="1" height="17" fill="#000"/>
<rect x="433" y="192" width="3" height="10" fill="#000"/>
<rect x="434" y="193" width="1" height="8" fill="#fff"/>
<rect x="437" y="189" width="1" height="24" fill="#d4083c"/>
<rect x="436" y="190" width="3" height="4" fill="#d4083c"/>
<rect x="440" y="187" width="1" height="19" fill="#d4083c"/>
<rect x="439" y="195" width="3" height="10" fill="#d4083c"/>
<rect x="443" y="198" width="1" height="15" fill="#d4083c"/>
<rect x="442" y="201" width="3" height="7" fill="#d4083c"/>
<rect x="446" y="204" width="1" height="12" fill="#d4083c"/>
<rect x="445" y="209" width="3" height="5" fill="#d4083c"/>
<rect x="449" y="189" width="1" height="26" fill="#000"/>
<rect x="448" y="191" width="3" height="23" fill="#000"/>
<rect x="449" y="192" width="1" height="21" fill="#fff"/>
<rect x="452" y="190" width="1" height="7" fill="#d4083c"/>
<rect x="451" y="191" width="3" height="4" fill="#d4083c"/>
<rect x="455" y="176" width="1" height="21" fill="#000"/>
<rect x="454" y="190" width="3" height="3" fill="#000"/>
<rect x="455" y="191" width="1" height="1" fill="#fff"/>
<rect x="458" y="179" width="1" height="16" fill="#000"/>
<rect x="457" y="180" width="3" height="9" fill="#000"/>
<rect x="458" y="181" width="1" height="7" fill="#fff"/>
<rect x="461" y="174" width="1" height="11" fill="#000"/>
<rect x="460" y="178" width="3" height="3" fill="#000"/>
<rect x="461" y="179" width="1" height="1" fill="#fff"/>
<rect x="464" y="178" width="1" height="30" fill="#d4083c"/>
<rect x="463" y="179" width="3" height="20" fill="#d4083c"/>
<rect x="467" y="190" width="1" height="18" fill="#d4083c"/>
<rect x="466" y="198" width="3" height="4" fill="#d4083c"/>
<rect x="470" y="184" width="1" height="18" fill="#000"/>
<rect x="469" y="190" width="3" height="11" fill="#000"/>
<rect x="470" y="191" width="1" height="9" fill="#fff"/>
<rect x="473" y="177" width="1" height="27" fill="#d4083c"/>
<rect x="472" y="190" width="3" height="5" fill="#d4083c"/>
<rect x="476" y="182" width="1" height="24" fill="#000"/>
<rect x="475" y="185" width="3" height="9" fill="#000"/>
<rect x="476" y="186" width="1" height="7" fill="#fff"/>
<rect x="479" y="178" width="1" height="11" fill="#000"/>
<rect x="478" y="184" width="3" height="1" fill="#000"/>
<rect x="482" y="180" width="1" height="8" fill="#000"/>
<rect x="481" y="181" width="3" height="3" fill="#000"/>
<rect x="482" y="182" width="1" height="1" fill="#fff"/>
<rect x="485" y="179" width="1" height="10" fill="#d4083c"/>
<rect x="484" y="181" width="3" height="6" fill="#d4083c"/>
<rect x="488" y="181" width="1" height="12" fill="#d4083c"/>
<rect x="487" y="184" width="3" height="5" fill="#d4083c"/>
<rect x="491" y="166" width="1" height="25" fill="#000"/>
<rect x="490" y="173" width="3" height="15" fill="#000"/>
<rect x="491" y="174" width="1" height="13" fill="#fff"/>
<rect x="494" y="169" width="1" height="12" fill="#000"/>
<rect x="493" y="170" width="3" height="3" fill="#000"/>
<rect x="494" y="171" width="1" height="1" fill="#fff"/>
<rect x="497" y="158" width="1" height="13" fill="#000"/>
<rect x="496" y="159" width="3" height="11" fill="#000"/>
<rect x="497" y="160" width="1" height="9" fill="#fff"/>
<rect x="500" y="160" width="1" height="21" fill="#d4083c"/>
<rect x="499" y="161" width="3" height="13" fill="#d4083c"/>
<rect x="503" y="171" width="1" height="10" fill="#d4083c"/>
<rect x="502" y="174" width="3" height="7" fill="#d4083c"/>
<rect x="506" y="177" width="1" height="7" fill="#d4083c"/>
<rect x="505" y="181" width="3" height="1" fill="#d4083c"/>
<rect x="509" y="167" width="1" height="17" fill="#000"/>
<rect x="508" y="181" width="3" height="2" fill="#000"/>
<rect x="512" y="177" width="1" height="10" fill="#d4083c"/>
<rect x="511" y="182" width="3" height="4" fill="#d4083c"/>
<rect x="515" y="173" width="1" height="16" fill="#000"/>
<rect x="514" y="178" width="3" height="4" fill="#000"/>
<rect x="515" y="179" width="1" height="2" fill="#fff"/>
<rect x="518" y="167" width="1" height="15" fill="#d4083c"/>
<rect x="517" y="178" width="3" height="1" fill="#d4083c"/>
<rect x="521" y="173" width="1" height="16" fill="#d4083c"/>
<rect x="520" y="178" width="3" height="1" fill="#d4083c"/>
<rect x="524" y="152" width="1" height="26" fill="#000"/>
<rect x="523" y="153" width="3" height="24" fill="#000"/>
<rect x="524" y="154" width="1" height="22" fill="#fff"/>
<rect x="527" y="141" width="1" height="45" fill="#d4083c"/>
<rect x="526" y="152" width="3" height="19" fill="#d4083c"/>
<rect x="530" y="154" width="1" height="17" fill="#000"/>
<rect x="529" y="156" width="3" height="13" fill="#000"/>
<rect x="530" y="157" width="1" height="11" fill="#fff"/>
<rect x="533" y="140" width="1" height="19" fill="#000"/>
<rect x="532" y="141" width="3" height="14" fill="#000"/>
<rect x="533" y="142" width="1" height="12" fill="#fff"/>
<rect x="536" y="132" width="1" height="14" fill="#000"/>
<rect x="535" y="136" width="3" height="5" fill="#000"/>
<rect x="536" y="137" width="1" height="3" fill="#fff"/>
<rect x="539" y="125" width="1" height="17" fill="#000"/>
<rect x="538" y="130" width="3" height="7" fill="#000"/>
<rect x="539" y="131" width="1" height="5" fill="#fff"/>
<rect x="542" y="129" width="1" height="14" fill="#d4083c"/>
<rect x="541" y="131" width="3" height="6" fill="#d4083c"/>
<rect x="545" y="125" width="1" height="15" fill="#000"/>
<rect x="544" y="130" width="3" height="9" fill="#000"/>
<rect x="545" y="131" width="1" height="7" fill="#fff"/>
<rect x="548" y="121" width="1" height="15" fill="#000"/>
<rect x="547" y="122" width="3" height="8" fill="#000"/>
<rect x="548" y="123" width="1" height="6" fill="#fff"/>
<rect x="551" y="118" width="1" height="7" fill="#000"/>
<rect x="550" y="120" width="3" height="3" fill="#000"/>
<rect x="551" y="121" width="1" height="1" fill="#fff"/>
<rect x="554" y="112" width="1" height="10" fill="#000"/>
<rect x="553" y="115" width="3" height="3" fill="#000"/>
<rect x="554" y="116" width="1" height="1" fill="#fff"/>
<rect x="557" y="110" width="1" height="26" fill="#d4083c"/>
<rect x="556" y="114" width="3" height="18" fill="#d4083c"/>
<rect x="560" y="132" width="1" height="19" fill="#d4083c"/>
<rect x="559" y="132" width="3" height="15" fill="#d4083c"/>
<rect x="563" y="146" width="1" height="43" fill="#d4083c"/>
<rect x="562" y="147" width="3" height="37" fill="#d4083c"/>
<rect x="566" y="174" width="1" height="37" fill="#d4083c"/>
<rect x="565" y="181" width="3" height="29" fill="#d4083c"/>
<rect x="569" y="196" width="1" height="51" fill="#000"/>
<rect x="568" y="205" width="3" height="11" fill="#000"/>
<rect x="569" y="206" width="1" height="9" fill="#fff"/>
<rect x="572" y="189" width="1" height="16" fill="#000"/>
<rect x="571" y="193" width="3" height="10" fill="#000"/>
<rect x="572" y="194" width="1" height="8" fill="#fff"/>
<rect x="575" y="185" width="1" height="18" fill="#000"/>
<rect x="574" y="188" width="3" height="3" fill="#000"/>
<rect x="575" y="189" width="1" height="1" fill="#fff"/>
<rect x="578" y="174" width="1" height="22" fill="#000"/>
<rect x="577" y="175" width="3" height="17" fill="#000"/>
<rect x="578" y="176" width="1" height="15" fill="#fff"/>
<rect x="581" y="174" width="1" height="34" fill="#d4083c"/>
<rect x="580" y="176" width="3" height="29" fill="#d4083c"/>
<rect x="584" y="201" width="1" height="19" fill="#d4083c"/>
<rect x="583" y="205" width="3" height="11" fill="#d4083c"/>
<rect x="587" y="188" width="1" height="32" fill="#000"/>
<rect x="586" y="189" width="3" height="26" fill="#000"/>
<rect x="587" y="190" width="1" height="24" fill="#fff"/>
<rect x="590" y="168" width="1" height="25" fill="#000"/>
<rect x="589" y="186" width="3" height="3" fill="#000"/>
<rect x="590" y="187" width="1" height="1" fill="#fff"/>
<rect x="593" y="170" width="1" height="18" fill="#000"/>
<rect x="592" y="174" width="3" height="9" fill="#000"/>
<rect x="593" y="175" width="1" height="7" fill="#fff"/>
<rect x="596" y="174" width="1" height="13" fill="#d4083c"/>
<rect x="595" y="174" width="3" height="5" fill="#d4083c"/>
<rect x="599" y="172" width="1" height="16" fill="#d4083c"/>
<rect x="598" y="178" width="3" height="3" fill="#d4083c"/>
<rect x="602" y="170" width="1" height="13" fill="#000"/>
<rect x="601" y="180" width="3" height="1" fill="#000"/>
<rect x="605" y="171" width="1" height="13" fill="#000"/>
<rect x="604" y="174" width="3" height="3" fill="#000"/>
<rect x="605" y="175" width="1" height="1" fill="#fff"/>
<rect x="608" y="166" width="1" height="39" fill="#d4083c"/>
<rect x="607" y="178" width="3" height="27" fill="#d4083c"/>
<rect x="611" y="171" width="1" height="15" fill="#000"/>
<rect x="610" y="177" width="3" height="8" fill="#000"/>
<rect x="614" y="172" width="1" height="16" fill="#d4083c"/>
<rect x="613" y="181" width="3" height="5" fill="#d4083c"/>
<rect x="617" y="183" width="1" height="35" fill="#d4083c"/>
<rect x="616" y="184" width="3" height="19" fill="#d4083c"/>
<rect x="620" y="197" width="1" height="14" fill="#d4083c"/>
<rect x="619" y="200" width="3" height="10" fill="#d4083c"/>
<rect x="623" y="196" width="1" height="17" fill="#000"/>
<rect x="622" y="199" width="3" height="11" fill="#000"/>
<rect x="623" y="200" width="1" height="9" fill="#fff"/>
<rect x="626" y="193" width="1" height="22" fill="#d4083c"/>
<rect x="625" y="194" width="3" height="7" fill="#d4083c"/>
<rect x="629" y="181" width="1" height="27" fill="#000"/>
<rect x="628" y="197" width="3" height="4" fill="#000"/>
<rect x="629" y="198" width="1" height="2" fill="#fff"/>
<rect x="632" y="193" width="1" height="17" fill="#d4083c"/>
<rect x="631" y="195" width="3" height="11" fill="#d4083c"/>
<rect x="635" y="190" width="1" height="18" fill="#d4083c"/>
<rect x="634" y="200" width="3" height="7" fill="#d4083c"/>
<rect x="638" y="198" width="1" height="18" fill="#d4083c"/>
<rect x="637" y="202" width="3" height="8" fill="#d4083c"/>
<rect x="641" y="194" width="1" height="17" fill="#000"/>
<rect x="640" y="202" width="3" height="9" fill="#000"/>
<rect x="641" y="203" width="1" height="7" fill="#fff"/>
<rect x="644" y="197" width="1" height="19" fill="#d4083c"/>
<rect x="643" y="199" width="3" height="11" fill="#d4083c"/>
<rect x="647" y="209" width="1" height="19" fill="#d4083c"/>
<rect x="646" y="217" width="3" height="8" fill="#d4083c"/>
<rect x="650" y="209" width="1" height="18" fill="#000"/>
<rect x="649" y="210" width="3" height="15" fill="#000"/>
<rect x="650" y="211" width="1" height="13" fill="#fff"/>
<rect x="653" y="210" width="1" height="16" fill="#d4083c"/>
<rect x="652" y="212" width="3" height="13" fill="#d4083c"/>
<rect x="656" y="221" width="1" height="21" fill="#d4083c"/>
<rect x="655" y="222" width="3" height="15" fill="#d4083c"/>
<rect x="659" y="224" width="1" height="23" fill="#000"/>
<rect x="658" y="228" width="3" height="8" fill="#000"/>
<rect x="659" y="229" width="1" height="6" fill="#fff"/>
<rect x="662" y="224" width="1" height="21" fill="#000"/>
<rect x="661" y="227" width="3" height="9" fill="#000"/>
<rect x="662" y="228" width="1" height="7" fill="#fff"/>
<rect x="665" y="211" width="1" height="20" fill="#000"/>
<rect x="664" y="225" width="3" height="3" fill="#000"/>
<rect x="665" y="226" width="1" height="1" fill="#fff"/>
<rect x="668" y="216" width="1" height="10" fill="#000"/>
<rect x="667" y="222" width="3" height="3" fill="#000"/>
<rect x="671" y="216" width="1" height="48" fill="#d4083c"/>
<rect x="670" y="226" width="3" height="27" fill="#d4083c"/>
<rect x="674" y="240" width="1" height="35" fill="#000"/>
<rect x="673" y="242" width="3" height="25" fill="#000"/>
<rect x="674" y="243" width="1" height="23" fill="#fff"/>
<rect x="677" y="228" width="1" height="17" fill="#000"/>
<rect x="676" y="235" width="3" height="5" fill="#000"/>
<rect x="677" y="236" width="1" height="3" fill="#fff"/>
<rect x="680" y="221" width="1" height="17" fill="#000"/>
<rect x="679" y="225" width="3" height="10" fill="#000"/>
<rect x="680" y="226" width="1" height="8" fill="#fff"/>
<rect x="683" y="218" width="1" height="21" fill="#000"/>
<rect x="682" y="220" width="3" height="5" fill="#000"/>
<rect x="683" y="221" width="1" height="3" fill="#fff"/>
<rect x="686" y="218" width="1" height="10" fill="#d4083c"/>
<rect x="685" y="222" width="3" height="1" fill="#d4083c"/>
<rect x="689" y="207" width="1" height="23" fill="#d4083c"/>
<rect x="688" y="219" width="3" height="5" fill="#d4083c"/>
<rect x="692" y="220" width="1" height="14" fill="#d4083c"/>
<rect x="691" y="226" width="3" height="2" fill="#d4083c"/>
<rect x="695" y="213" width="1" height="16" fill="#000"/>
<rect x="694" y="223" width="3" height="3" fill="#000"/>
<rect x="695" y="224" width="1" height="1" fill="#fff"/>
<rect x="698" y="211" width="1" height="13" fill="#000"/>
<rect x="697" y="212" width="3" height="11" fill="#000"/>
<rect x="698" y="213" width="1" height="9" fill="#fff"/>
<rect x="701" y="205" width="1" height="18" fill="#d4083c"/>
<rect x="700" y="212" width="3" height="4" fill="#d4083c"/>
<rect x="704" y="204" width="1" height="13" fill="#000"/>
<rect x="703" y="211" width="3" height="3" fill="#000"/>
<rect x="704" y="212" width="1" height="1" fill="#fff"/>
<rect x="707" y="207" width="1" height="7" fill="#000"/>
<rect x="706" y="208" width="3" height="5" fill="#000"/>
<rect x="707" y="209" width="1" height="3" fill="#fff"/>
<rect x="710" y="204" width="1" height="9" fill="#d4083c"/>
<rect x="709" y="208" width="3" height="1" fill="#d4083c"/>
<rect x="713" y="198" width="1" height="15" fill="#000"/>
<rect x="712" y="199" width="3" height="10" fill="#000"/>
<rect x="713" y="200" width="1" height="8" fill="#fff"/>
<rect x="716" y="197" width="1" height="11" fill="#000"/>
<rect x="715" y="199" width="3" height="3" fill="#000"/>
<rect x="716" y="200" width="1" height="1" fill="#fff"/>
<rect x="719" y="194" width="1" height="16" fill="#000"/>
<rect x="718" y="196" width="3" height="5" fill="#000"/>
<rect x="719" y="197" width="1" height="3" fill="#fff"/>
<rect x="722" y="195" width="1" height="18" fill="#d4083c"/>
<rect x="721" y="196" width="3" height="17" fill="#d4083c"/>
<rect x="725" y="203" width="1" height="14" fill="#000"/>
<rect x="724" y="204" width="3" height="9" fill="#000"/>
<rect x="725" y="205" width="1" height="7" fill="#fff"/>
<rect x="728" y="201" width="1" height="13" fill="#d4083c"/>
<rect x="727" y="204" width="3" height="9" fill="#d4083c"/>
<rect x="731" y="210" width="1" height="15" fill="#d4083c"/>
<rect x="730" y="210" width="3" height="9" fill="#d4083c"/>
<rect x="734" y="214" width="1" height="13" fill="#000"/>
<rect x="733" y="214" width="3" height="3" fill="#000"/>
<rect x="734" y="215" width="1" height="1" fill="#fff"/>
<rect x="737" y="213" width="1" height="5" fill="#000"/>
<rect x="736" y="215" width="3" height="1" fill="#000"/>
<rect x="740" y="203" width="1" height="11" fill="#000"/>
<rect x="739" y="204" width="3" height="7" fill="#000"/>
<rect x="740" y="205" width="1" height="5" fill="#fff"/>
<rect x="743" y="203" width="1" height="15" fill="#d4083c"/>
<rect x="742" y="205" width="3" height="10" fill="#d4083c"/>
<rect x="746" y="210" width="1" height="10" fill="#d4083c"/>
<rect x="745" y="213" width="3" height="6" fill="#d4083c"/>
<rect x="749" y="218" width="1" height="11" fill="#d4083c"/>
<rect x="748" y="219" width="3" height="3" fill="#d4083c"/>
<rect x="752" y="199" width="1" height="19" fill="#000"/>
<rect x="751" y="213" width="3" height="5" fill="#000"/>
<rect x="755" y="211" width="1" height="16" fill="#d4083c"/>
<rect x="754" y="212" width="3" height="8" fill="#d4083c"/>
<rect x="758" y="205" width="1" height="15" fill="#000"/>
<rect x="757" y="206" width="3" height="12" fill="#000"/>
<rect x="758" y="207" width="1" height="10" fill="#fff"/>
<rect x="761" y="197" width="1" height="15" fill="#000"/>
<rect x="760" y="203" width="3" height="3" fill="#000"/>
<rect x="761" y="204" width="1" height="1" fill="#fff"/>
<rect x="764" y="201" width="1" height="22" fill="#d4083c"/>
<rect x="763" y="202" width="3" height="16" fill="#d4083c"/>
<rect x="767" y="205" width="1" height="15" fill="#000"/>
<rect x="766" y="206" width="3" height="12" fill="#000"/>
<rect x="767" y="207" width="1" height="10" fill="#fff"/>
<rect x="770" y="197" width="1" height="11" fill="#d4083c"/>
<rect x="769" y="206" width="3" height="2" fill="#d4083c"/>
<rect x="773" y="190" width="1" height="20" fill="#000"/>
<rect x="772" y="191" width="3" height="15" fill="#000"/>
<rect x="773" y="192" width="1" height="13" fill="#fff"/>
<rect x="776" y="189" width="1" height="9" fill="#000"/>
<rect x="775" y="190" width="3" height="3" fill="#000"/>
<rect x="776" y="191" width="1" height="1" fill="#fff"/>
<rect x="779" y="180" width="1" height="10" fill="#000"/>
<rect x="778" y="185" width="3" height="5" fill="#000"/>
<rect x="779" y="186" width="1" height="3" fill="#fff"/>
<rect x="782" y="180" width="1" height="15" fill="#000"/>
<rect x="781" y="181" width="3" height="4" fill="#000"/>
<rect x="782" y="182" width="1" height="2" fill="#fff"/>
<rect x="785" y="175" width="1" height="7" fill="#000"/>
<rect x="784" y="176" width="3" height="5" fill="#000"/>
<rect x="785" y="177" width="1" height="3" fill="#fff"/>
<rect x="788" y="177" width="1" height="11" fill="#d4083c"/>
<rect x="787" y="177" width="3" height="8" fill="#d4083c"/>
<rect x="791" y="182" width="1" height="6" fill="#000"/>
<rect x="790" y="183" width="3" height="2" fill="#000"/>
<rect x="794" y="171" width="1" height="13" fill="#000"/>
<rect x="793" y="179" width="3" height="4" fill="#000"/>
<rect x="794" y="180" width="1" height="2" fill="#fff"/>
<rect x="797" y="153" width="1" height="28" fill="#000"/>
<rect x="796" y="166" width="3" height="14" fill="#000"/>
<rect x="797" y="167" width="1" height="12" fill="#fff"/>
<rect x="800" y="159" width="1" height="16" fill="#000"/>
<rect x="799" y="161" width="3" height="5" fill="#000"/>
<rect x="800" y="162" width="1" height="3" fill="#fff"/>
</g>
<g fill="none" stroke-linejoin="round" stroke-linecap="round">
<clipPath id="cm"><rect x="17" y="92" width="789" height="249"/></clipPath>
<g clip-path="url(#cm)">
<path d="M16.9 324.4 C24.5 324.4 53.6 324.2 62.7 324.4 C71.9 324.6 67.5 325.4 71.8 325.6 C76.1 325.8 78.7 325.7 88.4 325.8 C98.1 325.9 119.5 326 130 326.2 C140.5 326.4 143.7 326.8 151.5 326.8 C159.3 326.8 168.5 326.6 176.8 326.3 C185.2 326 195.3 325.2 201.6 324.8 C207.9 324.4 207.9 324.5 214.6 323.8 C221.3 323.1 231.1 321.8 242 320.6 C252.9 319.4 266.9 318.6 280 316.8 C293.1 315 308.8 311.6 320.6 309.7 C332.4 307.8 340.9 307 350.6 305.5 C360.3 304 370.6 302.5 378.8 300.9 C387 299.2 392.9 297.2 400 295.6 C407.1 294 413.6 293.2 421.2 291.4 C428.8 289.6 437.7 287.4 445.9 285 C454.1 282.6 463 279.8 470.6 277.2 C478.2 274.6 483.6 271.9 491.8 269.1 C500 266.3 510.6 263.5 520 260.3 C529.4 257.1 542.2 251.8 548.2 249.7 C554.2 247.6 552.3 248.6 556 247.6 C559.7 246.6 565.5 245.3 570.2 243.9 C574.9 242.5 579.6 240.5 584.4 238.9 C589.1 237.3 594 235.9 598.7 234.6 C603.5 233.3 608.2 232 612.9 231.1 C617.6 230.2 622.4 229.6 627.1 229 C631.8 228.4 636.8 228.2 641.3 227.8 C645.8 227.4 649.7 226.8 654.2 226.3 C658.7 225.8 663.6 225.2 668.4 224.8 C673.1 224.4 678 224.3 682.7 223.8 C687.5 223.3 692.2 222.8 696.9 222 C701.6 221.2 706.4 219.9 711.1 219.1 C715.8 218.3 720.6 217.8 725.3 217 C730 216.2 734.8 214.9 739.5 214.2 C744.2 213.5 750.3 213.1 753.7 212.7 C757.1 212.3 756.8 212.4 760 212 C763.2 211.6 768.2 210.7 772.7 210.1 C777.2 209.5 782.3 209 786.9 208.7 C791.5 208.4 798.1 208.4 800.4 208.3" stroke="#d8103c" stroke-width="1.2"/>
<path d="M47.8 340.2 C49.9 338.8 55.6 334.6 60.4 331.7 C65.2 328.8 71.4 325 76.4 322.5 C81.4 320 86.3 318 90.2 316.8 C94.1 315.6 96.4 316.1 100 315.1 C103.6 314.1 107.8 312.7 111.8 311 C115.8 309.3 119.8 307.3 123.7 305.1 C127.7 302.9 132.2 299.7 135.5 297.9 C138.8 296.1 141 295.3 143.8 294.4 C146.6 293.5 149.5 293.2 152.1 292.6 C154.7 292 156.8 291.1 159.2 290.8 C161.6 290.5 162.4 290.7 166.4 290.6 C170.4 290.5 178.6 290.3 182.9 290.2 C187.2 290.1 189.6 290.4 192.4 289.9 C195.2 289.4 197.4 288.2 200 287.3 C202.6 286.4 204.7 285.6 208 284.5 C211.3 283.4 215.9 282.4 220 281 C224.1 279.6 228.3 278.1 232.5 276.3 C236.7 274.5 240.8 272.3 244.9 270.4 C249.1 268.5 253.2 266.9 257.4 265 C261.6 263.1 266.8 260.2 269.9 258.8 C273 257.4 272.8 257.3 276.1 256.9 C279.4 256.5 286.4 256.9 289.9 256.3 C293.4 255.7 294 254.8 297 253 C300 251.2 303.8 247.5 307.7 245.7 C311.6 243.8 316.2 243.4 320.4 241.9 C324.6 240.4 329.3 237.9 333.1 236.8 C336.9 235.7 340.1 235.2 343.3 235.2 C346.5 235.2 349.2 236.4 352.2 236.8 C355.2 237.2 357.9 237.5 361.1 237.5 C364.3 237.5 367.4 236.9 371.2 236.8 C375 236.7 380.1 237.2 383.9 236.8 C387.7 236.4 391.2 235 394.1 234.3 C397 233.6 398.2 233 401 232.6 C403.8 232.2 407.2 231.9 410.7 231.7 C414.2 231.4 417.9 231.9 422.1 231.1 C426.3 230.2 431.2 227.7 436.1 226.6 C441 225.5 446.3 225.5 451.4 224.7 C456.5 223.8 462.4 222.8 466.6 221.5 C470.8 220.2 473.4 218.4 476.8 217.1 C480.2 215.8 483.6 215.3 487 213.9 C490.4 212.5 493.9 210.5 497.1 208.8 C500.3 207.1 502.7 205.4 506 203.8 C509.3 202.2 513.1 200.6 517 199 C520.9 197.4 525 196.1 529.2 194 C533.4 191.9 537.7 188.9 542 186.5 C546.3 184.1 551.5 181.2 554.8 179.6 C558.1 178 559.1 177.7 561.7 177.1 C564.3 176.5 567.3 176.2 570.4 175.8 C573.5 175.4 576.8 174.8 580.4 174.4 C584 174 588.7 173.8 591.7 173.6 C594.8 173.4 594.9 173.1 598.7 173.1 C602.5 173.1 608.1 173.2 614.3 173.5 C620.4 173.8 630.1 174.1 635.6 174.9 C641.1 175.7 643.2 177.3 647 178.5 C650.8 179.7 654.6 180.7 658.4 182 C662.2 183.3 666.4 184.9 669.7 186.3 C673 187.7 675 188.7 678.4 190.5 C681.8 192.3 686 194.8 689.8 197.1 C693.6 199.4 697.8 202.3 701.1 204.2 C704.4 206.1 706.6 207.8 709.7 208.5 C712.8 209.2 716.2 208.3 719.6 208.5 C723 208.7 726.9 209.1 730 209.5 C733.1 209.9 735.4 210.5 738.5 211.1 C741.6 211.7 744.5 212.5 748.5 213.2 C752.5 213.9 758.2 215.2 762.7 215.4 C767.2 215.7 771.5 215.1 775.5 214.7 C779.5 214.3 783.8 213.5 786.9 213 C790 212.5 791.8 212.3 794 211.8 C796.2 211.3 799.3 210.4 800.4 210.1" stroke="#1c1c9c" stroke-width="1.2"/>
<path d="M16.9 338.6 C19.6 336.1 27.8 328.5 32.9 323.7 C38 318.9 42.8 314.2 47.8 310 C52.8 305.8 58.3 301.4 62.7 298.5 C67.1 295.6 71.3 293.6 74.3 292.3 C77.3 291 78.2 291 80.7 290.7 C83.2 290.4 86 290.4 89.2 290.5 C92.4 290.6 96.2 291.1 100 291.4 C103.8 291.6 107.8 291.6 111.8 292 C115.8 292.4 120.7 293.7 123.7 293.8 C126.7 293.9 127 293.5 129.6 292.6 C132.2 291.7 136.5 289.4 139.1 288.5 C141.7 287.6 142.6 287.5 145 287.5 C147.4 287.5 150.5 288.6 153.3 288.5 C156.1 288.4 159.4 287.2 161.6 286.7 C163.8 286.2 164.4 285.3 166.4 285.5 C168.4 285.7 170.8 287.4 173.5 287.9 C176.2 288.4 179.8 288.6 182.9 288.7 C186.1 288.8 189.6 289.2 192.4 288.7 C195.2 288.2 197.7 286.8 200 285.5 C202.3 284.2 203.3 283.7 206.2 281 C209.1 278.3 213.9 272.4 217.5 269.4 C221.1 266.4 224.4 266.3 227.5 263.2 C230.6 260.1 233.3 254.2 236.2 250.7 C239.1 247.2 242.4 244.4 244.9 242 C247.4 239.6 248.7 237.5 251.2 236.3 C253.7 235.2 256.8 235.4 259.9 235.1 C263 234.8 266.1 234.3 269.9 234.2 C273.6 234.1 279.1 234.5 282.4 234.7 C285.7 234.8 287.5 235.2 289.9 235.1 C292.3 235 294.4 234.4 297 234 C299.6 233.6 302.8 233.1 305.2 232.4 C307.6 231.7 309 229.8 311.5 229.6 C314 229.4 317.6 230.4 320.4 231.1 C323.1 231.8 325.4 232.9 328 233.7 C330.6 234.4 333.1 235.8 335.7 235.6 C338.2 235.4 340.8 232.7 343.3 232.6 C345.8 232.5 348.4 233.7 350.9 234.9 C353.4 236.1 355.9 238.3 358.5 239.8 C361.1 241.3 363.6 242.9 366.2 243.8 C368.8 244.7 371.3 245.4 373.8 245.1 C376.3 244.8 378.9 242.8 381.4 241.9 C383.9 241 386.7 240.7 389 239.4 C391.3 238.1 393.4 235.7 395.4 234.3 C397.4 232.9 398.9 232.2 401 231 C403.1 229.8 405.3 229 408.2 227.3 C411.1 225.6 414.7 223 418.3 220.9 C421.9 218.8 426.4 216.5 429.8 214.6 C433.2 212.7 435.1 210.7 438.7 209.5 C442.3 208.3 447.2 208.5 451.4 207.6 C455.6 206.7 460.3 205.2 464.1 203.8 C467.9 202.4 470.4 201.1 474.2 199.3 C478 197.5 482.8 195.1 487 193 C491.2 190.9 496.5 188.2 499.7 186.6 C502.9 185 502.9 184.4 506.4 183.6 C509.9 182.8 516.9 183.1 520.7 181.9 C524.5 180.7 526.1 178.8 529.2 176.5 C532.3 174.2 535.8 171 539.1 168 C542.4 165 546.5 160.9 549.1 158.7 C551.7 156.4 552.9 155.5 554.8 154.5 C556.7 153.5 558.6 152.7 560.5 152.6 C562.4 152.5 563.4 153.2 566.2 153.8 C569 154.4 574.2 155.1 577.5 156.3 C580.8 157.5 582.6 158.9 586.1 160.9 C589.6 162.9 594.5 165.4 598.5 168.3 C602.5 171.2 606.6 175 610 178.5 C613.4 182 615.8 186.8 618.6 189.1 C621.5 191.3 623.3 191.1 627.1 192 C630.9 192.9 637.7 194 641.3 194.8 C644.9 195.6 645.6 194.9 648.5 196.6 C651.4 198.3 655.2 202.6 658.5 205.2 C661.8 207.8 665.6 209.8 668.4 212 C671.2 214.2 672.9 217.1 675.5 218.4 C678.1 219.7 681 219 684.1 219.9 C687.2 220.8 691.2 223 694 224.1 C696.8 225.2 698.7 226.1 701.1 226.3 C703.5 226.5 705.6 226.3 708.2 225.5 C710.8 224.7 713.9 222.6 716.8 221.3 C719.6 220 722.7 218.6 725.3 217.7 C727.9 216.8 730 216.6 732.4 215.8 C734.8 215 736.9 213.5 739.5 212.8 C742.1 212.1 744.4 212 748.3 211.7 C752.2 211.4 758.2 211.4 762.7 211.1 C767.2 210.8 772 210.5 775.5 209.7 C779 208.9 781.1 207.4 784 206.1 C786.9 204.8 789.9 203.5 792.6 201.9 C795.3 200.3 799.1 197.4 800.4 196.5" stroke="#117311" stroke-width="1.2"/>
</g></g>
<g font-family='"Liberation Sans", Arial, sans-serif' font-size="9.3px" text-anchor="middle" stroke="#000" stroke-width="0.25" style="text-rendering:geometricPrecision">
<rect x="54.5" y="255.5" width="26" height="10" fill="#fff" stroke="#d0d0d0" stroke-width="1"/>
<path d="M64.1 265.5 L68.6 270.5 L73.1 265.5" fill="#fff" stroke="#d0d0d0" stroke-width="1"/>
<path d="M65 265.5 H72.2" stroke="#fff" stroke-width="1.4"/>
<text x="67.2" y="264" textLength="22.6" lengthAdjust="spacingAndGlyphs">0.802</text>
<rect x="90.5" y="324.5" width="26" height="10" fill="#fff" stroke="#d0d0d0" stroke-width="1"/>
<path d="M100.1 324.5 L104.6 319.5 L109.1 324.5" fill="#fff" stroke="#d0d0d0" stroke-width="1"/>
<path d="M101 324.5 H108.2" stroke="#fff" stroke-width="1.4"/>
<text x="103.2" y="333" textLength="22.6" lengthAdjust="spacingAndGlyphs">0.746</text>
<rect x="117.5" y="235.5" width="26" height="10" fill="#fff" stroke="#d0d0d0" stroke-width="1"/>
<path d="M127.1 245.5 L131.6 250.5 L136.1 245.5" fill="#fff" stroke="#d0d0d0" stroke-width="1"/>
<path d="M128 245.5 H135.2" stroke="#fff" stroke-width="1.4"/>
<text x="130.2" y="244" textLength="22.6" lengthAdjust="spacingAndGlyphs">0.825</text>
<rect x="159.5" y="319.5" width="26" height="10" fill="#fff" stroke="#d0d0d0" stroke-width="1"/>
<path d="M169.1 319.5 L173.6 314.5 L178.1 319.5" fill="#fff" stroke="#d0d0d0" stroke-width="1"/>
<path d="M170 319.5 H177.2" stroke="#fff" stroke-width="1.4"/>
<text x="172.2" y="328" textLength="22.6" lengthAdjust="spacingAndGlyphs">0.752</text>
<rect x="195.5" y="193.5" width="26" height="10" fill="#fff" stroke="#d0d0d0" stroke-width="1"/>
<path d="M205.1 203.5 L209.6 208.5 L214.1 203.5" fill="#fff" stroke="#d0d0d0" stroke-width="1"/>
<path d="M206 203.5 H213.2" stroke="#fff" stroke-width="1.4"/>
<text x="208.2" y="202" textLength="22.6" lengthAdjust="spacingAndGlyphs">0.874</text>
<rect x="204.5" y="283.5" width="26" height="10" fill="#fff" stroke="#d0d0d0" stroke-width="1"/>
<path d="M214.1 283.5 L218.6 278.5 L223.1 283.5" fill="#fff" stroke="#d0d0d0" stroke-width="1"/>
<path d="M215 283.5 H222.2" stroke="#fff" stroke-width="1.4"/>
<text x="217.2" y="292" textLength="22.6" lengthAdjust="spacingAndGlyphs">0.795</text>
<rect x="240.5" y="260.5" width="26" height="10" fill="#fff" stroke="#d0d0d0" stroke-width="1"/>
<path d="M250.1 260.5 L254.6 255.5 L259.1 260.5" fill="#fff" stroke="#d0d0d0" stroke-width="1"/>
<path d="M251 260.5 H258.2" stroke="#fff" stroke-width="1.4"/>
<text x="253.2" y="269" textLength="22.6" lengthAdjust="spacingAndGlyphs">0.821</text>
<rect x="258.5" y="189.5" width="26" height="10" fill="#fff" stroke="#d0d0d0" stroke-width="1"/>
<path d="M268.1 199.5 L272.6 204.5 L277.1 199.5" fill="#fff" stroke="#d0d0d0" stroke-width="1"/>
<path d="M269 199.5 H276.2" stroke="#fff" stroke-width="1.4"/>
<text x="271.2" y="198" textLength="22.6" lengthAdjust="spacingAndGlyphs">0.879</text>
<rect x="264.5" y="273.5" width="26" height="10" fill="#fff" stroke="#d0d0d0" stroke-width="1"/>
<path d="M274.1 273.5 L278.6 268.5 L283.1 273.5" fill="#fff" stroke="#d0d0d0" stroke-width="1"/>
<path d="M275 273.5 H282.2" stroke="#fff" stroke-width="1.4"/>
<text x="277.2" y="282" textLength="22.6" lengthAdjust="spacingAndGlyphs">0.806</text>
<rect x="297.5" y="182.5" width="26" height="10" fill="#fff" stroke="#d0d0d0" stroke-width="1"/>
<path d="M307.1 192.5 L311.6 197.5 L316.1 192.5" fill="#fff" stroke="#d0d0d0" stroke-width="1"/>
<path d="M308 192.5 H315.2" stroke="#fff" stroke-width="1.4"/>
<text x="310.2" y="191" textLength="22.6" lengthAdjust="spacingAndGlyphs">0.887</text>
<rect x="306.5" y="270.5" width="26" height="10" fill="#fff" stroke="#d0d0d0" stroke-width="1"/>
<path d="M316.1 270.5 L320.6 265.5 L325.1 270.5" fill="#fff" stroke="#d0d0d0" stroke-width="1"/>
<path d="M317 270.5 H324.2" stroke="#fff" stroke-width="1.4"/>
<text x="319.2" y="279" textLength="22.6" lengthAdjust="spacingAndGlyphs">0.810</text>
<rect x="330.5" y="212.5" width="26" height="10" fill="#fff" stroke="#d0d0d0" stroke-width="1"/>
<path d="M340.1 222.5 L344.6 227.5 L349.1 222.5" fill="#fff" stroke="#d0d0d0" stroke-width="1"/>
<path d="M341 222.5 H348.2" stroke="#fff" stroke-width="1.4"/>
<text x="343.2" y="221" textLength="22.6" lengthAdjust="spacingAndGlyphs">0.852</text>
<rect x="339.5" y="275.5" width="26" height="10" fill="#fff" stroke="#d0d0d0" stroke-width="1"/>
<path d="M349.1 275.5 L353.6 270.5 L358.1 275.5" fill="#fff" stroke="#d0d0d0" stroke-width="1"/>
<path d="M350 275.5 H357.2" stroke="#fff" stroke-width="1.4"/>
<text x="352.2" y="284" textLength="22.6" lengthAdjust="spacingAndGlyphs">0.804</text>
<rect x="384.5" y="173.5" width="26" height="10" fill="#fff" stroke="#d0d0d0" stroke-width="1"/>
<path d="M394.1 183.5 L398.6 188.5 L403.1 183.5" fill="#fff" stroke="#d0d0d0" stroke-width="1"/>
<path d="M395 183.5 H402.2" stroke="#fff" stroke-width="1.4"/>
<text x="397.2" y="182" textLength="22.6" lengthAdjust="spacingAndGlyphs">0.897</text>
<rect x="393.5" y="236.5" width="26" height="10" fill="#fff" stroke="#d0d0d0" stroke-width="1"/>
<path d="M403.1 236.5 L407.6 231.5 L412.1 236.5" fill="#fff" stroke="#d0d0d0" stroke-width="1"/>
<path d="M404 236.5 H411.2" stroke="#fff" stroke-width="1.4"/>
<text x="406.2" y="245" textLength="22.6" lengthAdjust="spacingAndGlyphs">0.849</text>
<rect x="543.5" y="94.5" width="26" height="10" fill="#fff" stroke="#d0d0d0" stroke-width="1"/>
<path d="M553.1 104.5 L557.6 109.5 L562.1 104.5" fill="#fff" stroke="#d0d0d0" stroke-width="1"/>
<path d="M554 104.5 H561.2" stroke="#fff" stroke-width="1.4"/>
<text x="556.2" y="103" textLength="22.6" lengthAdjust="spacingAndGlyphs">0.990</text>
<rect x="555.5" y="252.5" width="26" height="10" fill="#fff" stroke="#d0d0d0" stroke-width="1"/>
<path d="M565.1 252.5 L569.6 247.5 L574.1 252.5" fill="#fff" stroke="#d0d0d0" stroke-width="1"/>
<path d="M566 252.5 H573.2" stroke="#fff" stroke-width="1.4"/>
<text x="568.2" y="261" textLength="22.6" lengthAdjust="spacingAndGlyphs">0.831</text>
<rect x="573.5" y="224.5" width="26" height="10" fill="#fff" stroke="#d0d0d0" stroke-width="1"/>
<path d="M583.1 224.5 L587.6 219.5 L592.1 224.5" fill="#fff" stroke="#d0d0d0" stroke-width="1"/>
<path d="M584 224.5 H591.2" stroke="#fff" stroke-width="1.4"/>
<text x="586.2" y="233" textLength="22.6" lengthAdjust="spacingAndGlyphs">0.863</text>
<rect x="594.5" y="150.5" width="26" height="10" fill="#fff" stroke="#d0d0d0" stroke-width="1"/>
<path d="M604.1 160.5 L608.6 165.5 L613.1 160.5" fill="#fff" stroke="#d0d0d0" stroke-width="1"/>
<path d="M605 160.5 H612.2" stroke="#fff" stroke-width="1.4"/>
<text x="607.2" y="159" textLength="22.6" lengthAdjust="spacingAndGlyphs">0.925</text>
<rect x="603.5" y="224.5" width="26" height="10" fill="#fff" stroke="#d0d0d0" stroke-width="1"/>
<path d="M613.1 224.5 L617.6 219.5 L622.1 224.5" fill="#fff" stroke="#d0d0d0" stroke-width="1"/>
<path d="M614 224.5 H621.2" stroke="#fff" stroke-width="1.4"/>
<text x="616.2" y="233" textLength="22.6" lengthAdjust="spacingAndGlyphs">0.864</text>
<rect x="615.5" y="164.5" width="26" height="10" fill="#fff" stroke="#d0d0d0" stroke-width="1"/>
<path d="M625.1 174.5 L629.6 179.5 L634.1 174.5" fill="#fff" stroke="#d0d0d0" stroke-width="1"/>
<path d="M626 174.5 H633.2" stroke="#fff" stroke-width="1.4"/>
<text x="628.2" y="173" textLength="22.6" lengthAdjust="spacingAndGlyphs">0.908</text>
<rect x="651.5" y="193.5" width="26" height="10" fill="#fff" stroke="#d0d0d0" stroke-width="1"/>
<path d="M661.1 203.5 L665.6 208.5 L670.1 203.5" fill="#fff" stroke="#d0d0d0" stroke-width="1"/>
<path d="M662 203.5 H669.2" stroke="#fff" stroke-width="1.4"/>
<text x="664.2" y="202" textLength="22.6" lengthAdjust="spacingAndGlyphs">0.874</text>
<rect x="660.5" y="280.5" width="26" height="10" fill="#fff" stroke="#d0d0d0" stroke-width="1"/>
<path d="M670.1 280.5 L674.6 275.5 L679.1 280.5" fill="#fff" stroke="#d0d0d0" stroke-width="1"/>
<path d="M671 280.5 H678.2" stroke="#fff" stroke-width="1.4"/>
<text x="673.2" y="289" textLength="22.6" lengthAdjust="spacingAndGlyphs">0.798</text>
<rect x="783.5" y="137.5" width="26" height="10" fill="#fff" stroke="#d0d0d0" stroke-width="1"/>
<path d="M793.1 147.5 L797.6 152.5 L802.1 147.5" fill="#fff" stroke="#d0d0d0" stroke-width="1"/>
<path d="M794 147.5 H801.2" stroke="#fff" stroke-width="1.4"/>
<text x="796.2" y="146" textLength="22.6" lengthAdjust="spacingAndGlyphs">0.940</text>
</g>
<g shape-rendering="crispEdges">
<rect x="16" y="399" width="3" height="6" fill="#1f6d94"/>
<rect x="17" y="400" width="2" height="4" fill="#5aa9d2"/>
<rect x="19" y="399" width="3" height="6" fill="#1f6d94"/>
<rect x="20" y="400" width="2" height="4" fill="#5aa9d2"/>
<rect x="22" y="399" width="3" height="6" fill="#1f6d94"/>
<rect x="23" y="400" width="2" height="4" fill="#5aa9d2"/>
<rect x="25" y="399" width="3" height="6" fill="#1f6d94"/>
<rect x="26" y="400" width="2" height="4" fill="#5aa9d2"/>
<rect x="28" y="399" width="3" height="6" fill="#1f6d94"/>
<rect x="29" y="400" width="2" height="4" fill="#5aa9d2"/>
<rect x="31" y="398" width="3" height="7" fill="#1f6d94"/>
<rect x="32" y="399" width="2" height="5" fill="#5aa9d2"/>
<rect x="34" y="399" width="3" height="6" fill="#1f6d94"/>
<rect x="35" y="400" width="2" height="4" fill="#5aa9d2"/>
<rect x="37" y="401" width="3" height="4" fill="#1f6d94"/>
<rect x="38" y="402" width="2" height="2" fill="#5aa9d2"/>
<rect x="40" y="402" width="3" height="3" fill="#1f6d94"/>
<rect x="41" y="403" width="2" height="1" fill="#5aa9d2"/>
<rect x="43" y="403" width="3" height="2" fill="#1f6d94"/>
<rect x="44" y="404" width="2" height="0" fill="#5aa9d2"/>
<rect x="46" y="404" width="3" height="1" fill="#1f6d94"/>
<rect x="49" y="404" width="3" height="2" fill="#1f6d94"/>
<rect x="50" y="405" width="2" height="0" fill="#5aa9d2"/>
<rect x="52" y="404" width="3" height="2" fill="#1f6d94"/>
<rect x="53" y="405" width="2" height="0" fill="#5aa9d2"/>
<rect x="55" y="404" width="3" height="2" fill="#1f6d94"/>
<rect x="56" y="405" width="2" height="0" fill="#5aa9d2"/>
<rect x="58" y="404" width="3" height="1" fill="#1f6d94"/>
<rect x="61" y="403" width="3" height="2" fill="#1f6d94"/>
<rect x="62" y="404" width="2" height="0" fill="#5aa9d2"/>
<rect x="64" y="403" width="3" height="2" fill="#1f6d94"/>
<rect x="65" y="404" width="2" height="0" fill="#5aa9d2"/>
<rect x="67" y="404" width="3" height="1" fill="#1f6d94"/>
<rect x="70" y="404" width="3" height="1" fill="#1f6d94"/>
<rect x="73" y="404" width="3" height="3" fill="#1f6d94"/>
<rect x="74" y="405" width="2" height="1" fill="#5aa9d2"/>
<rect x="76" y="404" width="3" height="4" fill="#1f6d94"/>
<rect x="77" y="405" width="2" height="2" fill="#5aa9d2"/>
<rect x="79" y="404" width="3" height="5" fill="#1f6d94"/>
<rect x="80" y="405" width="2" height="3" fill="#5aa9d2"/>
<rect x="82" y="404" width="3" height="5" fill="#1f6d94"/>
<rect x="83" y="405" width="2" height="3" fill="#5aa9d2"/>
<rect x="85" y="404" width="3" height="6" fill="#1f6d94"/>
<rect x="86" y="405" width="2" height="4" fill="#5aa9d2"/>
<rect x="88" y="404" width="3" height="7" fill="#1f6d94"/>
<rect x="89" y="405" width="2" height="5" fill="#5aa9d2"/>
<rect x="91" y="404" width="3" height="8" fill="#1f6d94"/>
<rect x="92" y="405" width="2" height="6" fill="#5aa9d2"/>
<rect x="94" y="404" width="3" height="8" fill="#1f6d94"/>
<rect x="95" y="405" width="2" height="6" fill="#5aa9d2"/>
<rect x="97" y="404" width="3" height="8" fill="#1f6d94"/>
<rect x="98" y="405" width="2" height="6" fill="#5aa9d2"/>
<rect x="100" y="404" width="3" height="8" fill="#1f6d94"/>
<rect x="101" y="405" width="2" height="6" fill="#5aa9d2"/>
<rect x="103" y="404" width="3" height="9" fill="#1f6d94"/>
<rect x="104" y="405" width="2" height="7" fill="#5aa9d2"/>
<rect x="106" y="404" width="3" height="7" fill="#1f6d94"/>
<rect x="107" y="405" width="2" height="5" fill="#5aa9d2"/>
<rect x="109" y="404" width="3" height="4" fill="#1f6d94"/>
<rect x="110" y="405" width="2" height="2" fill="#5aa9d2"/>
<rect x="112" y="404" width="3" height="3" fill="#1f6d94"/>
<rect x="113" y="405" width="2" height="1" fill="#5aa9d2"/>
<rect x="115" y="404" width="3" height="3" fill="#1f6d94"/>
<rect x="116" y="405" width="2" height="1" fill="#5aa9d2"/>
<rect x="118" y="404" width="3" height="2" fill="#1f6d94"/>
<rect x="119" y="405" width="2" height="0" fill="#5aa9d2"/>
<rect x="121" y="404" width="3" height="3" fill="#1f6d94"/>
<rect x="122" y="405" width="2" height="1" fill="#5aa9d2"/>
<rect x="124" y="404" width="3" height="3" fill="#1f6d94"/>
<rect x="125" y="405" width="2" height="1" fill="#5aa9d2"/>
<rect x="127" y="402" width="3" height="3" fill="#1f6d94"/>
<rect x="128" y="403" width="2" height="1" fill="#5aa9d2"/>
<rect x="130" y="400" width="3" height="5" fill="#1f6d94"/>
<rect x="131" y="401" width="2" height="3" fill="#5aa9d2"/>
<rect x="133" y="398" width="3" height="7" fill="#1f6d94"/>
<rect x="134" y="399" width="2" height="5" fill="#5aa9d2"/>
<rect x="136" y="396" width="3" height="9" fill="#1f6d94"/>
<rect x="137" y="397" width="2" height="7" fill="#5aa9d2"/>
<rect x="139" y="398" width="3" height="7" fill="#1f6d94"/>
<rect x="140" y="399" width="2" height="5" fill="#5aa9d2"/>
<rect x="142" y="400" width="3" height="5" fill="#1f6d94"/>
<rect x="143" y="401" width="2" height="3" fill="#5aa9d2"/>
<rect x="145" y="404" width="3" height="2" fill="#1f6d94"/>
<rect x="146" y="405" width="2" height="0" fill="#5aa9d2"/>
<rect x="148" y="404" width="3" height="5" fill="#1f6d94"/>
<rect x="149" y="405" width="2" height="3" fill="#5aa9d2"/>
<rect x="151" y="404" width="3" height="7" fill="#1f6d94"/>
<rect x="152" y="405" width="2" height="5" fill="#5aa9d2"/>
<rect x="154" y="404" width="3" height="8" fill="#1f6d94"/>
<rect x="155" y="405" width="2" height="6" fill="#5aa9d2"/>
<rect x="157" y="404" width="3" height="7" fill="#1f6d94"/>
<rect x="158" y="405" width="2" height="5" fill="#5aa9d2"/>
<rect x="160" y="404" width="3" height="5" fill="#1f6d94"/>
<rect x="161" y="405" width="2" height="3" fill="#5aa9d2"/>
<rect x="163" y="404" width="3" height="5" fill="#1f6d94"/>
<rect x="164" y="405" width="2" height="3" fill="#5aa9d2"/>
<rect x="166" y="404" width="3" height="6" fill="#1f6d94"/>
<rect x="167" y="405" width="2" height="4" fill="#5aa9d2"/>
<rect x="169" y="404" width="3" height="8" fill="#1f6d94"/>
<rect x="170" y="405" width="2" height="6" fill="#5aa9d2"/>
<rect x="172" y="404" width="3" height="8" fill="#1f6d94"/>
<rect x="173" y="405" width="2" height="6" fill="#5aa9d2"/>
<rect x="175" y="404" width="3" height="8" fill="#1f6d94"/>
<rect x="176" y="405" width="2" height="6" fill="#5aa9d2"/>
<rect x="178" y="404" width="3" height="7" fill="#1f6d94"/>
<rect x="179" y="405" width="2" height="5" fill="#5aa9d2"/>
<rect x="181" y="404" width="3" height="6" fill="#1f6d94"/>
<rect x="182" y="405" width="2" height="4" fill="#5aa9d2"/>
<rect x="184" y="404" width="3" height="4" fill="#1f6d94"/>
<rect x="185" y="405" width="2" height="2" fill="#5aa9d2"/>
<rect x="187" y="402" width="3" height="3" fill="#1f6d94"/>
<rect x="188" y="403" width="2" height="1" fill="#5aa9d2"/>
<rect x="190" y="398" width="3" height="7" fill="#1f6d94"/>
<rect x="191" y="399" width="2" height="5" fill="#5aa9d2"/>
<rect x="193" y="392" width="3" height="13" fill="#1f6d94"/>
<rect x="194" y="393" width="2" height="11" fill="#5aa9d2"/>
<rect x="196" y="389" width="3" height="16" fill="#1f6d94"/>
<rect x="197" y="390" width="2" height="14" fill="#5aa9d2"/>
<rect x="199" y="387" width="3" height="18" fill="#1f6d94"/>
<rect x="200" y="388" width="2" height="16" fill="#5aa9d2"/>
<rect x="202" y="385" width="3" height="20" fill="#1f6d94"/>
<rect x="203" y="386" width="2" height="18" fill="#5aa9d2"/>
<rect x="205" y="386" width="3" height="19" fill="#1f6d94"/>
<rect x="206" y="387" width="2" height="17" fill="#5aa9d2"/>
<rect x="208" y="388" width="3" height="17" fill="#1f6d94"/>
<rect x="209" y="389" width="2" height="15" fill="#5aa9d2"/>
<rect x="211" y="391" width="3" height="14" fill="#1f6d94"/>
<rect x="212" y="392" width="2" height="12" fill="#5aa9d2"/>
<rect x="214" y="395" width="3" height="10" fill="#1f6d94"/>
<rect x="215" y="396" width="2" height="8" fill="#5aa9d2"/>
<rect x="217" y="399" width="3" height="6" fill="#1f6d94"/>
<rect x="218" y="400" width="2" height="4" fill="#5aa9d2"/>
<rect x="220" y="402" width="3" height="3" fill="#1f6d94"/>
<rect x="221" y="403" width="2" height="1" fill="#5aa9d2"/>
<rect x="223" y="404" width="3" height="1" fill="#1f6d94"/>
<rect x="226" y="403" width="3" height="2" fill="#1f6d94"/>
<rect x="227" y="404" width="2" height="0" fill="#5aa9d2"/>
<rect x="229" y="402" width="3" height="3" fill="#1f6d94"/>
<rect x="230" y="403" width="2" height="1" fill="#5aa9d2"/>
<rect x="232" y="402" width="3" height="3" fill="#1f6d94"/>
<rect x="233" y="403" width="2" height="1" fill="#5aa9d2"/>
<rect x="235" y="402" width="3" height="3" fill="#1f6d94"/>
<rect x="236" y="403" width="2" height="1" fill="#5aa9d2"/>
<rect x="238" y="403" width="3" height="2" fill="#1f6d94"/>
<rect x="239" y="404" width="2" height="0" fill="#5aa9d2"/>
<rect x="241" y="404" width="3" height="1" fill="#1f6d94"/>
<rect x="244" y="404" width="3" height="1" fill="#1f6d94"/>
<rect x="247" y="404" width="3" height="2" fill="#1f6d94"/>
<rect x="248" y="405" width="2" height="0" fill="#5aa9d2"/>
<rect x="250" y="404" width="3" height="3" fill="#1f6d94"/>
<rect x="251" y="405" width="2" height="1" fill="#5aa9d2"/>
<rect x="253" y="404" width="3" height="4" fill="#1f6d94"/>
<rect x="254" y="405" width="2" height="2" fill="#5aa9d2"/>
<rect x="256" y="404" width="3" height="3" fill="#1f6d94"/>
<rect x="257" y="405" width="2" height="1" fill="#5aa9d2"/>
<rect x="259" y="404" width="3" height="2" fill="#1f6d94"/>
<rect x="260" y="405" width="2" height="0" fill="#5aa9d2"/>
<rect x="262" y="404" width="3" height="4" fill="#1f6d94"/>
<rect x="263" y="405" width="2" height="2" fill="#5aa9d2"/>
<rect x="265" y="404" width="3" height="3" fill="#1f6d94"/>
<rect x="266" y="405" width="2" height="1" fill="#5aa9d2"/>
<rect x="268" y="404" width="3" height="1" fill="#1f6d94"/>
<rect x="271" y="404" width="3" height="2" fill="#1f6d94"/>
<rect x="272" y="405" width="2" height="0" fill="#5aa9d2"/>
<rect x="274" y="404" width="3" height="5" fill="#1f6d94"/>
<rect x="275" y="405" width="2" height="3" fill="#5aa9d2"/>
<rect x="277" y="404" width="3" height="8" fill="#1f6d94"/>
<rect x="278" y="405" width="2" height="6" fill="#5aa9d2"/>
<rect x="280" y="404" width="3" height="11" fill="#1f6d94"/>
<rect x="281" y="405" width="2" height="9" fill="#5aa9d2"/>
<rect x="283" y="404" width="3" height="12" fill="#1f6d94"/>
<rect x="284" y="405" width="2" height="10" fill="#5aa9d2"/>
<rect x="286" y="404" width="3" height="8" fill="#1f6d94"/>
<rect x="287" y="405" width="2" height="6" fill="#5aa9d2"/>
<rect x="289" y="404" width="3" height="5" fill="#1f6d94"/>
<rect x="290" y="405" width="2" height="3" fill="#5aa9d2"/>
<rect x="292" y="404" width="3" height="2" fill="#1f6d94"/>
<rect x="293" y="405" width="2" height="0" fill="#5aa9d2"/>
<rect x="295" y="404" width="3" height="1" fill="#1f6d94"/>
<rect x="298" y="403" width="3" height="2" fill="#1f6d94"/>
<rect x="299" y="404" width="2" height="0" fill="#5aa9d2"/>
<rect x="301" y="403" width="3" height="2" fill="#1f6d94"/>
<rect x="302" y="404" width="2" height="0" fill="#5aa9d2"/>
<rect x="304" y="402" width="3" height="3" fill="#1f6d94"/>
<rect x="305" y="403" width="2" height="1" fill="#5aa9d2"/>
<rect x="307" y="400" width="3" height="5" fill="#1f6d94"/>
<rect x="308" y="401" width="2" height="3" fill="#5aa9d2"/>
<rect x="310" y="400" width="3" height="5" fill="#1f6d94"/>
<rect x="311" y="401" width="2" height="3" fill="#5aa9d2"/>
<rect x="313" y="402" width="3" height="3" fill="#1f6d94"/>
<rect x="314" y="403" width="2" height="1" fill="#5aa9d2"/>
<rect x="316" y="404" width="3" height="3" fill="#1f6d94"/>
<rect x="317" y="405" width="2" height="1" fill="#5aa9d2"/>
<rect x="319" y="404" width="3" height="6" fill="#1f6d94"/>
<rect x="320" y="405" width="2" height="4" fill="#5aa9d2"/>
<rect x="322" y="404" width="3" height="8" fill="#1f6d94"/>
<rect x="323" y="405" width="2" height="6" fill="#5aa9d2"/>
<rect x="325" y="404" width="3" height="7" fill="#1f6d94"/>
<rect x="326" y="405" width="2" height="5" fill="#5aa9d2"/>
<rect x="328" y="404" width="3" height="6" fill="#1f6d94"/>
<rect x="329" y="405" width="2" height="4" fill="#5aa9d2"/>
<rect x="331" y="404" width="3" height="6" fill="#1f6d94"/>
<rect x="332" y="405" width="2" height="4" fill="#5aa9d2"/>
<rect x="334" y="404" width="3" height="6" fill="#1f6d94"/>
<rect x="335" y="405" width="2" height="4" fill="#5aa9d2"/>
<rect x="337" y="404" width="3" height="5" fill="#1f6d94"/>
<rect x="338" y="405" width="2" height="3" fill="#5aa9d2"/>
<rect x="340" y="404" width="3" height="4" fill="#1f6d94"/>
<rect x="341" y="405" width="2" height="2" fill="#5aa9d2"/>
<rect x="343" y="404" width="3" height="3" fill="#1f6d94"/>
<rect x="344" y="405" width="2" height="1" fill="#5aa9d2"/>
<rect x="346" y="404" width="3" height="3" fill="#1f6d94"/>
<rect x="347" y="405" width="2" height="1" fill="#5aa9d2"/>
<rect x="349" y="404" width="3" height="4" fill="#1f6d94"/>
<rect x="350" y="405" width="2" height="2" fill="#5aa9d2"/>
<rect x="352" y="404" width="3" height="5" fill="#1f6d94"/>
<rect x="353" y="405" width="2" height="3" fill="#5aa9d2"/>
<rect x="355" y="404" width="3" height="5" fill="#1f6d94"/>
<rect x="356" y="405" width="2" height="3" fill="#5aa9d2"/>
<rect x="358" y="404" width="3" height="5" fill="#1f6d94"/>
<rect x="359" y="405" width="2" height="3" fill="#5aa9d2"/>
<rect x="361" y="404" width="3" height="3" fill="#1f6d94"/>
<rect x="362" y="405" width="2" height="1" fill="#5aa9d2"/>
<rect x="364" y="404" width="3" height="2" fill="#1f6d94"/>
<rect x="365" y="405" width="2" height="0" fill="#5aa9d2"/>
<rect x="367" y="403" width="3" height="2" fill="#1f6d94"/>
<rect x="368" y="404" width="2" height="0" fill="#5aa9d2"/>
<rect x="370" y="402" width="3" height="3" fill="#1f6d94"/>
<rect x="371" y="403" width="2" height="1" fill="#5aa9d2"/>
<rect x="373" y="400" width="3" height="5" fill="#1f6d94"/>
<rect x="374" y="401" width="2" height="3" fill="#5aa9d2"/>
<rect x="376" y="399" width="3" height="6" fill="#1f6d94"/>
<rect x="377" y="400" width="2" height="4" fill="#5aa9d2"/>
<rect x="379" y="398" width="3" height="7" fill="#1f6d94"/>
<rect x="380" y="399" width="2" height="5" fill="#5aa9d2"/>
<rect x="382" y="398" width="3" height="7" fill="#1f6d94"/>
<rect x="383" y="399" width="2" height="5" fill="#5aa9d2"/>
<rect x="385" y="398" width="3" height="7" fill="#1f6d94"/>
<rect x="386" y="399" width="2" height="5" fill="#5aa9d2"/>
<rect x="388" y="396" width="3" height="9" fill="#1f6d94"/>
<rect x="389" y="397" width="2" height="7" fill="#5aa9d2"/>
<rect x="391" y="395" width="3" height="10" fill="#1f6d94"/>
<rect x="392" y="396" width="2" height="8" fill="#5aa9d2"/>
<rect x="394" y="394" width="3" height="11" fill="#1f6d94"/>
<rect x="395" y="395" width="2" height="9" fill="#5aa9d2"/>
<rect x="397" y="395" width="3" height="10" fill="#1f6d94"/>
<rect x="398" y="396" width="2" height="8" fill="#5aa9d2"/>
<rect x="400" y="395" width="3" height="10" fill="#1f6d94"/>
<rect x="401" y="396" width="2" height="8" fill="#5aa9d2"/>
<rect x="403" y="396" width="3" height="9" fill="#1f6d94"/>
<rect x="404" y="397" width="2" height="7" fill="#5aa9d2"/>
<rect x="406" y="398" width="3" height="7" fill="#1f6d94"/>
<rect x="407" y="399" width="2" height="5" fill="#5aa9d2"/>
<rect x="409" y="400" width="3" height="5" fill="#1f6d94"/>
<rect x="410" y="401" width="2" height="3" fill="#5aa9d2"/>
<rect x="412" y="402" width="3" height="3" fill="#1f6d94"/>
<rect x="413" y="403" width="2" height="1" fill="#5aa9d2"/>
<rect x="415" y="404" width="3" height="1" fill="#1f6d94"/>
<rect x="418" y="404" width="3" height="2" fill="#1f6d94"/>
<rect x="419" y="405" width="2" height="0" fill="#5aa9d2"/>
<rect x="421" y="404" width="3" height="2" fill="#1f6d94"/>
<rect x="422" y="405" width="2" height="0" fill="#5aa9d2"/>
<rect x="424" y="404" width="3" height="1" fill="#1f6d94"/>
<rect x="427" y="404" width="3" height="1" fill="#1f6d94"/>
<rect x="430" y="403" width="3" height="2" fill="#1f6d94"/>
<rect x="431" y="404" width="2" height="0" fill="#5aa9d2"/>
<rect x="433" y="402" width="3" height="3" fill="#1f6d94"/>
<rect x="434" y="403" width="2" height="1" fill="#5aa9d2"/>
<rect x="436" y="400" width="3" height="5" fill="#1f6d94"/>
<rect x="437" y="401" width="2" height="3" fill="#5aa9d2"/>
<rect x="439" y="401" width="3" height="4" fill="#1f6d94"/>
<rect x="440" y="402" width="2" height="2" fill="#5aa9d2"/>
<rect x="442" y="402" width="3" height="3" fill="#1f6d94"/>
<rect x="443" y="403" width="2" height="1" fill="#5aa9d2"/>
<rect x="445" y="404" width="3" height="2" fill="#1f6d94"/>
<rect x="446" y="405" width="2" height="0" fill="#5aa9d2"/>
<rect x="448" y="404" width="3" height="1" fill="#1f6d94"/>
<rect x="451" y="403" width="3" height="2" fill="#1f6d94"/>
<rect x="452" y="404" width="2" height="0" fill="#5aa9d2"/>
<rect x="454" y="402" width="3" height="3" fill="#1f6d94"/>
<rect x="455" y="403" width="2" height="1" fill="#5aa9d2"/>
<rect x="457" y="401" width="3" height="4" fill="#1f6d94"/>
<rect x="458" y="402" width="2" height="2" fill="#5aa9d2"/>
<rect x="460" y="400" width="3" height="5" fill="#1f6d94"/>
<rect x="461" y="401" width="2" height="3" fill="#5aa9d2"/>
<rect x="463" y="401" width="3" height="4" fill="#1f6d94"/>
<rect x="464" y="402" width="2" height="2" fill="#5aa9d2"/>
<rect x="466" y="403" width="3" height="2" fill="#1f6d94"/>
<rect x="467" y="404" width="2" height="0" fill="#5aa9d2"/>
<rect x="469" y="404" width="3" height="1" fill="#1f6d94"/>
<rect x="472" y="404" width="3" height="2" fill="#1f6d94"/>
<rect x="473" y="405" width="2" height="0" fill="#5aa9d2"/>
<rect x="475" y="404" width="3" height="2" fill="#1f6d94"/>
<rect x="476" y="405" width="2" height="0" fill="#5aa9d2"/>
<rect x="478" y="404" width="3" height="1" fill="#1f6d94"/>
<rect x="481" y="404" width="3" height="1" fill="#1f6d94"/>
<rect x="484" y="404" width="3" height="1" fill="#1f6d94"/>
<rect x="487" y="404" width="3" height="1" fill="#1f6d94"/>
<rect x="490" y="404" width="3" height="1" fill="#1f6d94"/>
<rect x="493" y="402" width="3" height="3" fill="#1f6d94"/>
<rect x="494" y="403" width="2" height="1" fill="#5aa9d2"/>
<rect x="496" y="401" width="3" height="4" fill="#1f6d94"/>
<rect x="497" y="402" width="2" height="2" fill="#5aa9d2"/>
<rect x="499" y="402" width="3" height="3" fill="#1f6d94"/>
<rect x="500" y="403" width="2" height="1" fill="#5aa9d2"/>
<rect x="502" y="403" width="3" height="2" fill="#1f6d94"/>
<rect x="503" y="404" width="2" height="0" fill="#5aa9d2"/>
<rect x="505" y="404" width="3" height="2" fill="#1f6d94"/>
<rect x="506" y="405" width="2" height="0" fill="#5aa9d2"/>
<rect x="508" y="404" width="3" height="4" fill="#1f6d94"/>
<rect x="509" y="405" width="2" height="2" fill="#5aa9d2"/>
<rect x="511" y="404" width="3" height="5" fill="#1f6d94"/>
<rect x="512" y="405" width="2" height="3" fill="#5aa9d2"/>
<rect x="514" y="404" width="3" height="4" fill="#1f6d94"/>
<rect x="515" y="405" width="2" height="2" fill="#5aa9d2"/>
<rect x="517" y="404" width="3" height="4" fill="#1f6d94"/>
<rect x="518" y="405" width="2" height="2" fill="#5aa9d2"/>
<rect x="520" y="404" width="3" height="4" fill="#1f6d94"/>
<rect x="521" y="405" width="2" height="2" fill="#5aa9d2"/>
<rect x="523" y="404" width="3" height="1" fill="#1f6d94"/>
<rect x="526" y="402" width="3" height="3" fill="#1f6d94"/>
<rect x="527" y="403" width="2" height="1" fill="#5aa9d2"/>
<rect x="529" y="402" width="3" height="3" fill="#1f6d94"/>
<rect x="530" y="403" width="2" height="1" fill="#5aa9d2"/>
<rect x="532" y="401" width="3" height="4" fill="#1f6d94"/>
<rect x="533" y="402" width="2" height="2" fill="#5aa9d2"/>
<rect x="535" y="398" width="3" height="7" fill="#1f6d94"/>
<rect x="536" y="399" width="2" height="5" fill="#5aa9d2"/>
<rect x="538" y="397" width="3" height="8" fill="#1f6d94"/>
<rect x="539" y="398" width="2" height="6" fill="#5aa9d2"/>
<rect x="541" y="396" width="3" height="9" fill="#1f6d94"/>
<rect x="542" y="397" width="2" height="7" fill="#5aa9d2"/>
<rect x="544" y="396" width="3" height="9" fill="#1f6d94"/>
<rect x="545" y="397" width="2" height="7" fill="#5aa9d2"/>
<rect x="547" y="396" width="3" height="9" fill="#1f6d94"/>
<rect x="548" y="397" width="2" height="7" fill="#5aa9d2"/>
<rect x="550" y="396" width="3" height="9" fill="#1f6d94"/>
<rect x="551" y="397" width="2" height="7" fill="#5aa9d2"/>
<rect x="553" y="395" width="3" height="10" fill="#1f6d94"/>
<rect x="554" y="396" width="2" height="8" fill="#5aa9d2"/>
<rect x="556" y="397" width="3" height="8" fill="#1f6d94"/>
<rect x="557" y="398" width="2" height="6" fill="#5aa9d2"/>
<rect x="559" y="403" width="3" height="2" fill="#1f6d94"/>
<rect x="560" y="404" width="2" height="0" fill="#5aa9d2"/>
<rect x="562" y="404" width="3" height="7" fill="#1f6d94"/>
<rect x="563" y="405" width="2" height="5" fill="#5aa9d2"/>
<rect x="565" y="404" width="3" height="15" fill="#1f6d94"/>
<rect x="566" y="405" width="2" height="13" fill="#5aa9d2"/>
<rect x="568" y="404" width="3" height="21" fill="#1f6d94"/>
<rect x="569" y="405" width="2" height="19" fill="#5aa9d2"/>
<rect x="571" y="404" width="3" height="22" fill="#1f6d94"/>
<rect x="572" y="405" width="2" height="20" fill="#5aa9d2"/>
<rect x="574" y="404" width="3" height="22" fill="#1f6d94"/>
<rect x="575" y="405" width="2" height="20" fill="#5aa9d2"/>
<rect x="577" y="404" width="3" height="20" fill="#1f6d94"/>
<rect x="578" y="405" width="2" height="18" fill="#5aa9d2"/>
<rect x="580" y="404" width="3" height="20" fill="#1f6d94"/>
<rect x="581" y="405" width="2" height="18" fill="#5aa9d2"/>
<rect x="583" y="404" width="3" height="20" fill="#1f6d94"/>
<rect x="584" y="405" width="2" height="18" fill="#5aa9d2"/>
<rect x="586" y="404" width="3" height="17" fill="#1f6d94"/>
<rect x="587" y="405" width="2" height="15" fill="#5aa9d2"/>
<rect x="589" y="404" width="3" height="14" fill="#1f6d94"/>
<rect x="590" y="405" width="2" height="12" fill="#5aa9d2"/>
<rect x="592" y="404" width="3" height="9" fill="#1f6d94"/>
<rect x="593" y="405" width="2" height="7" fill="#5aa9d2"/>
<rect x="595" y="404" width="3" height="6" fill="#1f6d94"/>
<rect x="596" y="405" width="2" height="4" fill="#5aa9d2"/>
<rect x="598" y="404" width="3" height="4" fill="#1f6d94"/>
<rect x="599" y="405" width="2" height="2" fill="#5aa9d2"/>
<rect x="601" y="404" width="3" height="2" fill="#1f6d94"/>
<rect x="602" y="405" width="2" height="0" fill="#5aa9d2"/>
<rect x="604" y="403" width="3" height="2" fill="#1f6d94"/>
<rect x="605" y="404" width="2" height="0" fill="#5aa9d2"/>
<rect x="607" y="404" width="3" height="2" fill="#1f6d94"/>
<rect x="608" y="405" width="2" height="0" fill="#5aa9d2"/>
<rect x="610" y="404" width="3" height="1" fill="#1f6d94"/>
<rect x="613" y="403" width="3" height="2" fill="#1f6d94"/>
<rect x="614" y="404" width="2" height="0" fill="#5aa9d2"/>
<rect x="616" y="404" width="3" height="1" fill="#1f6d94"/>
<rect x="619" y="404" width="3" height="4" fill="#1f6d94"/>
<rect x="620" y="405" width="2" height="2" fill="#5aa9d2"/>
<rect x="622" y="404" width="3" height="3" fill="#1f6d94"/>
<rect x="623" y="405" width="2" height="1" fill="#5aa9d2"/>
<rect x="625" y="404" width="3" height="3" fill="#1f6d94"/>
<rect x="626" y="405" width="2" height="1" fill="#5aa9d2"/>
<rect x="628" y="404" width="3" height="3" fill="#1f6d94"/>
<rect x="629" y="405" width="2" height="1" fill="#5aa9d2"/>
<rect x="631" y="404" width="3" height="3" fill="#1f6d94"/>
<rect x="632" y="405" width="2" height="1" fill="#5aa9d2"/>
<rect x="634" y="404" width="3" height="3" fill="#1f6d94"/>
<rect x="635" y="405" width="2" height="1" fill="#5aa9d2"/>
<rect x="637" y="404" width="3" height="3" fill="#1f6d94"/>
<rect x="638" y="405" width="2" height="1" fill="#5aa9d2"/>
<rect x="640" y="404" width="3" height="1" fill="#1f6d94"/>
<rect x="643" y="404" width="3" height="2" fill="#1f6d94"/>
<rect x="644" y="405" width="2" height="0" fill="#5aa9d2"/>
<rect x="646" y="404" width="3" height="3" fill="#1f6d94"/>
<rect x="647" y="405" width="2" height="1" fill="#5aa9d2"/>
<rect x="649" y="404" width="3" height="2" fill="#1f6d94"/>
<rect x="650" y="405" width="2" height="0" fill="#5aa9d2"/>
<rect x="652" y="404" width="3" height="3" fill="#1f6d94"/>
<rect x="653" y="405" width="2" height="1" fill="#5aa9d2"/>
<rect x="655" y="404" width="3" height="4" fill="#1f6d94"/>
<rect x="656" y="405" width="2" height="2" fill="#5aa9d2"/>
<rect x="658" y="404" width="3" height="5" fill="#1f6d94"/>
<rect x="659" y="405" width="2" height="3" fill="#5aa9d2"/>
<rect x="661" y="404" width="3" height="5" fill="#1f6d94"/>
<rect x="662" y="405" width="2" height="3" fill="#5aa9d2"/>
<rect x="664" y="404" width="3" height="3" fill="#1f6d94"/>
<rect x="665" y="405" width="2" height="1" fill="#5aa9d2"/>
<rect x="667" y="404" width="3" height="2" fill="#1f6d94"/>
<rect x="668" y="405" width="2" height="0" fill="#5aa9d2"/>
<rect x="670" y="404" width="3" height="4" fill="#1f6d94"/>
<rect x="671" y="405" width="2" height="2" fill="#5aa9d2"/>
<rect x="673" y="404" width="3" height="4" fill="#1f6d94"/>
<rect x="674" y="405" width="2" height="2" fill="#5aa9d2"/>
<rect x="676" y="404" width="3" height="2" fill="#1f6d94"/>
<rect x="677" y="405" width="2" height="0" fill="#5aa9d2"/>
<rect x="679" y="403" width="3" height="2" fill="#1f6d94"/>
<rect x="680" y="404" width="2" height="0" fill="#5aa9d2"/>
<rect x="682" y="401" width="3" height="4" fill="#1f6d94"/>
<rect x="683" y="402" width="2" height="2" fill="#5aa9d2"/>
<rect x="685" y="400" width="3" height="5" fill="#1f6d94"/>
<rect x="686" y="401" width="2" height="3" fill="#5aa9d2"/>
<rect x="688" y="399" width="3" height="6" fill="#1f6d94"/>
<rect x="689" y="400" width="2" height="4" fill="#5aa9d2"/>
<rect x="691" y="399" width="3" height="6" fill="#1f6d94"/>
<rect x="692" y="400" width="2" height="4" fill="#5aa9d2"/>
<rect x="694" y="397" width="3" height="8" fill="#1f6d94"/>
<rect x="695" y="398" width="2" height="6" fill="#5aa9d2"/>
<rect x="697" y="396" width="3" height="9" fill="#1f6d94"/>
<rect x="698" y="397" width="2" height="7" fill="#5aa9d2"/>
<rect x="700" y="396" width="3" height="9" fill="#1f6d94"/>
<rect x="701" y="397" width="2" height="7" fill="#5aa9d2"/>
<rect x="703" y="396" width="3" height="9" fill="#1f6d94"/>
<rect x="704" y="397" width="2" height="7" fill="#5aa9d2"/>
<rect x="706" y="395" width="3" height="10" fill="#1f6d94"/>
<rect x="707" y="396" width="2" height="8" fill="#5aa9d2"/>
<rect x="709" y="395" width="3" height="10" fill="#1f6d94"/>
<rect x="710" y="396" width="2" height="8" fill="#5aa9d2"/>
<rect x="712" y="394" width="3" height="11" fill="#1f6d94"/>
<rect x="713" y="395" width="2" height="9" fill="#5aa9d2"/>
<rect x="715" y="393" width="3" height="12" fill="#1f6d94"/>
<rect x="716" y="394" width="2" height="10" fill="#5aa9d2"/>
<rect x="718" y="393" width="3" height="12" fill="#1f6d94"/>
<rect x="719" y="394" width="2" height="10" fill="#5aa9d2"/>
<rect x="721" y="396" width="3" height="9" fill="#1f6d94"/>
<rect x="722" y="397" width="2" height="7" fill="#5aa9d2"/>
<rect x="724" y="398" width="3" height="7" fill="#1f6d94"/>
<rect x="725" y="399" width="2" height="5" fill="#5aa9d2"/>
<rect x="727" y="399" width="3" height="6" fill="#1f6d94"/>
<rect x="728" y="400" width="2" height="4" fill="#5aa9d2"/>
<rect x="730" y="402" width="3" height="3" fill="#1f6d94"/>
<rect x="731" y="403" width="2" height="1" fill="#5aa9d2"/>
<rect x="733" y="404" width="3" height="1" fill="#1f6d94"/>
<rect x="736" y="404" width="3" height="1" fill="#1f6d94"/>
<rect x="739" y="404" width="3" height="1" fill="#1f6d94"/>
<rect x="742" y="403" width="3" height="2" fill="#1f6d94"/>
<rect x="743" y="404" width="2" height="0" fill="#5aa9d2"/>
<rect x="745" y="404" width="3" height="1" fill="#1f6d94"/>
<rect x="748" y="404" width="3" height="2" fill="#1f6d94"/>
<rect x="749" y="405" width="2" height="0" fill="#5aa9d2"/>
<rect x="751" y="404" width="3" height="2" fill="#1f6d94"/>
<rect x="752" y="405" width="2" height="0" fill="#5aa9d2"/>
<rect x="754" y="404" width="3" height="3" fill="#1f6d94"/>
<rect x="755" y="405" width="2" height="1" fill="#5aa9d2"/>
<rect x="757" y="404" width="3" height="1" fill="#1f6d94"/>
<rect x="760" y="403" width="3" height="2" fill="#1f6d94"/>
<rect x="761" y="404" width="2" height="0" fill="#5aa9d2"/>
<rect x="763" y="403" width="3" height="2" fill="#1f6d94"/>
<rect x="764" y="404" width="2" height="0" fill="#5aa9d2"/>
<rect x="766" y="403" width="3" height="2" fill="#1f6d94"/>
<rect x="767" y="404" width="2" height="0" fill="#5aa9d2"/>
<rect x="769" y="402" width="3" height="3" fill="#1f6d94"/>
<rect x="770" y="403" width="2" height="1" fill="#5aa9d2"/>
<rect x="772" y="400" width="3" height="5" fill="#1f6d94"/>
<rect x="773" y="401" width="2" height="3" fill="#5aa9d2"/>
<rect x="775" y="398" width="3" height="7" fill="#1f6d94"/>
<rect x="776" y="399" width="2" height="5" fill="#5aa9d2"/>
<rect x="778" y="396" width="3" height="9" fill="#1f6d94"/>
<rect x="779" y="397" width="2" height="7" fill="#5aa9d2"/>
<rect x="781" y="395" width="3" height="10" fill="#1f6d94"/>
<rect x="782" y="396" width="2" height="8" fill="#5aa9d2"/>
<rect x="784" y="394" width="3" height="11" fill="#1f6d94"/>
<rect x="785" y="395" width="2" height="9" fill="#5aa9d2"/>
<rect x="787" y="395" width="3" height="10" fill="#1f6d94"/>
<rect x="788" y="396" width="2" height="8" fill="#5aa9d2"/>
<rect x="790" y="397" width="3" height="8" fill="#1f6d94"/>
<rect x="791" y="398" width="2" height="6" fill="#5aa9d2"/>
<rect x="793" y="397" width="3" height="8" fill="#1f6d94"/>
<rect x="794" y="398" width="2" height="6" fill="#5aa9d2"/>
<rect x="796" y="397" width="3" height="8" fill="#1f6d94"/>
<rect x="797" y="398" width="2" height="6" fill="#5aa9d2"/>
<rect x="799" y="397" width="3" height="8" fill="#1f6d94"/>
<rect x="800" y="398" width="2" height="6" fill="#5aa9d2"/>
</g>
<g fill="none" stroke-linejoin="round" stroke-linecap="round">
<path d="M16.9 381.6 C19 380.6 26 377.2 29.8 375.5 C33.6 373.8 35.9 372.1 39.6 371.3 C43.3 370.5 47 370.2 52 370.5 C57 370.8 64.8 372 69.3 373 C73.8 374 75.9 375.3 79.2 376.7 C82.5 378.1 85.8 379.8 89.1 381.6 C92.4 383.5 95.6 385.7 98.9 387.8 C102.2 389.9 105.5 392.6 108.8 394 C112.1 395.4 115.4 395.6 118.7 396 C122 396.4 125.7 397 128.6 396.5 C131.5 396 133.3 394.1 136 392.8 C138.7 391.6 141.7 389 144.6 389 C147.5 389 150.2 391.4 153.3 392.8 C156.4 394.2 160.3 396.5 163.2 397.7 C166.1 398.9 168.1 399.2 170.6 400.2 C173.1 401.2 175.1 402.8 178 403.9 C180.9 405 185.2 406.8 187.9 406.8 C190.6 406.8 191.5 406.2 194 403.9 C196.5 401.6 200 396.3 202.7 392.8 C205.4 389.3 208.1 385.4 210.1 382.9 C212.1 380.4 212.8 378.9 214.9 377.9 C217 376.9 219.1 377.2 222.4 376.7 C225.7 376.2 230.6 375.1 234.7 375 C238.8 374.9 243 375.3 247.1 376 C251.2 376.7 255.7 378.3 259.4 379.2 C263.1 380.1 266.4 380.1 269.3 381.1 C272.2 382.1 274.2 383.8 276.7 385.3 C279.2 386.8 281.6 388.9 284.1 390.3 C286.6 391.7 289 393.1 291.5 393.5 C294 393.9 296 393.4 298.9 392.8 C301.8 392.2 305.9 389.8 308.8 389.6 C311.7 389.4 313.7 390.4 316.2 391.5 C318.7 392.6 320.7 394.6 323.6 396.5 C326.5 398.4 330.2 401.2 333.5 402.6 C336.8 404 340.1 404.2 343.4 405.1 C346.7 406.1 350 407.3 353.3 408.3 C356.6 409.3 360.5 410.9 363.2 411.3 C365.9 411.7 366.8 411.6 369.3 410.8 C371.8 410 375.3 407.7 378 406.3 C380.7 404.9 382.9 404.3 385.4 402.6 C387.9 400.9 390.3 398.1 392.8 396 C395.3 393.9 397.7 391.7 400.2 390.3 C402.7 388.9 405.1 388.2 407.6 387.8 C410.1 387.4 412.9 387.6 415 387.8 C417.1 388 417.9 388.7 420 389.1 C422.1 389.5 424.4 390.4 427.3 390.3 C430.2 390.2 433.5 388.9 437.2 388.6 C440.9 388.3 445.4 389 449.5 388.6 C453.6 388.2 457.8 386.4 461.9 386.1 C466 385.8 469.7 386.6 474.2 386.6 C478.7 386.6 484.9 386.5 489 386.1 C493.1 385.7 495.6 384.4 498.9 384.1 C502.2 383.8 505.5 383.6 508.8 384.1 C512.1 384.6 515.4 386.7 518.7 387.3 C522 387.9 525.7 388.5 528.6 387.8 C531.5 387.1 533.3 384.8 536 382.9 C538.7 381 541.7 378.6 544.6 376.7 C547.5 374.8 550.8 372.4 553.3 371.3 C555.8 370.2 557.6 369.3 559.5 369.8 C561.4 370.3 562.5 371.8 564.4 374.2 C566.2 376.6 568.3 380.6 570.6 384.1 C572.9 387.6 575.5 391.7 578 395.2 C580.5 398.7 582.9 402.2 585.4 405.1 C587.9 408 590.3 410.9 592.8 412.5 C595.3 414.1 597.7 414.5 600.2 415 C602.7 415.5 604.3 415.3 607.6 415.7 C610.9 416.1 616.2 416.9 619.9 417.5 C623.6 418.1 626.5 418.6 629.8 419.2 C633.1 419.8 636.3 420.5 639.6 421.2 C642.9 421.9 646.2 422.6 649.5 423.6 C652.8 424.6 656.1 426.3 659.4 427.3 C662.7 428.3 666.4 429 669.3 429.8 C672.2 430.6 674.7 431.9 676.7 432.3 C678.8 432.7 679.5 432.9 681.6 432.3 C683.7 431.7 686.6 429.7 689.1 428.6 C691.6 427.5 694 427.1 696.5 425.6 C699 424.2 701.4 421.9 703.9 419.9 C706.4 417.9 708.8 415.7 711.3 413.8 C713.8 411.9 716.2 410 718.7 408.3 C721.2 406.6 723.6 404.8 726.1 403.9 C728.6 402.9 730.6 402.7 733.5 402.6 C736.4 402.5 740.1 402.8 743.4 403.1 C746.7 403.4 750 404.2 753.3 404.4 C756.6 404.6 760.3 404.5 763.2 404.4 C766.1 404.3 768.1 404.6 770.6 403.9 C773.1 403.2 775.5 401.6 778 400.2 C780.5 398.8 782.9 396.8 785.4 395.2 C787.9 393.6 790.3 391.9 792.8 390.3 C795.3 388.7 799 386.1 800.2 385.3" stroke="#ff0000" stroke-width="1.1"/>
<path d="M16.9 376.7 C18 376.2 22.6 374.1 24.8 373 C27 371.9 31.2 369.2 33.5 368.8 C35.8 368.4 40 369.4 42.1 369.8 C44.2 370.2 47.5 371.4 49.5 371.8 C51.5 372.2 55.1 373 56.9 373 C58.7 373 61.3 371.7 63.1 371.8 C64.9 371.9 68.5 372.6 70.5 373.7 C72.5 374.8 76.1 379 77.9 380.4 C79.7 381.8 82.3 382.8 84.1 384.1 C85.9 385.4 89.5 388.8 91.5 390.3 C93.5 391.8 97.1 393.9 98.9 395.2 C100.7 396.5 103.4 399.9 105.1 400.2 C106.8 400.5 109.5 398 111.3 397.7 C113.1 397.4 116.9 397.5 118.7 397.7 C120.5 397.9 123.3 399.7 124.9 398.9 C126.5 398.1 129.4 393.4 131 391.5 C132.6 389.6 135.7 385.8 137.2 384.9 C138.7 384 140.7 383.7 142.2 384.9 C143.7 386.1 146.7 391.8 148.3 394 C149.9 396.2 152.8 400.4 154.5 401.4 C156.2 402.4 159.2 401.2 160.7 401.4 C162.2 401.6 164.1 401.6 165.6 402.6 C167.1 403.6 170.1 407.6 171.8 408.8 C173.5 410 176.3 411 178 411.3 C179.7 411.6 182.6 412 184.2 410.8 C185.8 409.6 188.7 405.8 190.3 402.6 C191.9 399.4 194.8 390.4 196.5 386.6 C198.2 382.8 201 376.7 202.7 374.2 C204.4 371.7 207.3 368.8 208.9 368.1 C210.5 367.4 213.4 367.9 214.9 368.8 C216.4 369.7 218.6 373.6 219.9 374.7 C221.2 375.8 223.3 376.8 224.8 376.7 C226.3 376.6 229.5 374.2 231 373.7 C232.5 373.2 234.6 372.7 235.9 373 C237.2 373.3 239.4 375.5 240.9 376 C242.4 376.5 245.3 376 247.1 376.7 C248.9 377.4 252.9 380.6 254.5 381.1 C256.1 381.6 258.1 380 259.4 380.4 C260.7 380.8 262.8 384 264.3 384.1 C265.8 384.2 269 380.4 270.5 381.1 C272 381.8 274.2 386.9 275.5 389.1 C276.8 391.3 279.3 396 280.4 397.7 C281.5 399.4 283 401.8 284.1 401.9 C285.2 402 287.7 399.5 289 398.4 C290.3 397.3 292.7 394.7 294 394 C295.3 393.3 297.4 393.5 298.9 392.8 C300.4 392.1 303.6 390.1 305.1 389.1 C306.6 388.1 308.8 385.3 310 385.3 C311.2 385.3 312.6 387.4 313.8 389.1 C315 390.8 317.4 395.7 318.7 397.7 C320 399.7 322.3 402.9 323.6 403.9 C324.9 404.9 327.3 404.5 328.6 405.1 C329.9 405.7 332.2 407.8 333.5 408.3 C334.8 408.8 337 408.9 338.5 408.8 C340 408.7 343.1 407.4 344.6 407.6 C346.1 407.8 348.3 409.3 349.6 410.1 C350.9 410.9 353.2 412.7 354.5 413.3 C355.8 413.9 358.2 414.2 359.5 414.3 C360.8 414.4 363.1 414.4 364.4 413.8 C365.7 413.2 368 411.3 369.3 410.1 C370.6 408.9 373 406.4 374.3 405.1 C375.6 403.8 377.7 401.2 379.2 400.2 C380.7 399.2 383.9 399 385.4 397.7 C386.9 396.4 388.8 392.2 390.3 390.3 C391.8 388.4 394.8 384.8 396.5 383.6 C398.2 382.4 401.2 381.2 402.7 381.1 C404.2 381 406.2 382.2 407.6 382.9 C409 383.6 411.9 385.7 413 386.5 C414.1 387.3 414.9 388.5 416.2 389.1 C417.5 389.7 420.6 390.8 422.4 391 C424.2 391.2 427.8 391.1 429.8 390.3 C431.8 389.5 435.6 385.8 437.2 385.3 C438.8 384.8 440.8 385.9 442.1 386.6 C443.4 387.3 445.4 390.3 447.1 390.3 C448.8 390.3 452.5 387.7 454.5 386.6 C456.5 385.5 460.1 382.4 461.9 382.4 C463.7 382.4 466.5 385.8 468.1 386.6 C469.7 387.4 472.4 388.3 474.2 388.3 C476 388.3 479.6 386.8 481.6 386.6 C483.6 386.4 486.9 387.8 489 387.1 C491.1 386.4 495.7 382 497.7 381.6 C499.7 381.2 502.1 383.1 503.9 384.1 C505.7 385.1 509 388.2 511.3 389.1 C513.6 390 519.2 391.1 521.2 390.8 C523.2 390.5 524.8 387.3 526.1 386.6 C527.4 385.9 529.3 387 531 385.3 C532.7 383.6 536.7 376.3 538.5 374.2 C540.3 372.1 543 370.4 544.6 369.3 C546.2 368.2 549.5 366.5 550.8 365.6 C552.1 364.7 553.5 362.6 554.5 362.4 C555.5 362.2 557.2 362.8 558.2 364.4 C559.2 366 560.9 370.9 561.9 374.2 C562.9 377.5 564.6 385.3 565.6 389.1 C566.6 392.9 568.1 399.6 569.3 402.6 C570.5 405.6 573 409.5 574.3 411.3 C575.6 413.1 577.9 414.6 579.2 416.2 C580.5 417.8 582.9 422.5 584.2 423.6 C585.5 424.7 587.6 424.6 589.1 424.1 C590.6 423.6 593.6 420.9 595.3 419.9 C597 418.9 600.2 417.4 601.5 416.7 C602.8 416 604.2 414.9 605.2 415 C606.2 415.1 607.6 417.4 608.9 417.5 C610.2 417.6 613.4 415.3 614.9 415.7 C616.4 416.1 618.1 420 619.9 420.7 C621.7 421.4 626.2 420.9 628.5 421.2 C630.8 421.5 635.4 422.9 637.2 423.1 C639 423.3 640.8 422.1 642.1 422.4 C643.4 422.7 645.9 425.2 647.1 425.6 C648.3 426 649.7 424.9 650.8 425.4 C651.9 425.9 654.4 428.2 655.7 429.1 C657 430 659.5 431.9 660.6 432.3 C661.7 432.7 663.3 432 664.3 431.8 C665.3 431.6 667.1 430.2 668.1 430.6 C669.1 431 670.7 434.2 671.8 434.8 C672.9 435.4 675.4 435.4 676.7 434.8 C678 434.2 680.3 431.8 681.6 430.6 C682.9 429.4 685.3 427.1 686.6 426.1 C687.9 425.1 690.2 424.1 691.5 423.1 C692.8 422.1 695 420 696.5 418.7 C698 417.4 701 414.8 702.6 413.3 C704.2 411.8 707.3 409.1 708.8 407.6 C710.3 406.1 712.5 403.4 713.8 402.1 C715.1 400.8 717.4 398.2 718.7 397.7 C720 397.2 722.3 398.2 723.6 398.4 C724.9 398.6 727.3 398.8 728.6 399.4 C729.9 400 732.2 402 733.5 402.6 C734.8 403.2 737.3 403.9 738.5 403.9 C739.7 403.9 741.1 402.5 742.2 402.6 C743.3 402.7 746 404 747.1 404.4 C748.2 404.8 749.7 405.6 750.8 405.9 C751.9 406.2 754.4 407.1 755.7 406.8 C757 406.5 759.4 404.2 760.7 403.9 C762 403.6 764.3 404.7 765.6 404.4 C766.9 404.1 769.3 403 770.6 401.9 C771.9 400.8 774.2 398 775.5 396.5 C776.8 395 779.2 392.4 780.5 391 C781.8 389.6 784.3 387 785.4 386.1 C786.5 385.2 788.1 384.9 789.1 384.6 C790.1 384.3 791.8 384.5 792.8 384.1 C793.8 383.7 795.5 382.4 796.5 381.6 C797.5 380.8 799.7 378.8 800.2 378.4" stroke="#000" stroke-width="1.55"/>
</g>
<clipPath id="c70"><rect x="17" y="443" width="789" height="28.5"/></clipPath>
<clipPath id="c30"><rect x="17" y="501.5" width="789" height="30"/></clipPath>
<path d="M16.9 474.6 L21.1 472.1 L23.6 472.9 L27.3 470.1 L31 469.2 L34.7 467.2 L38.4 469.6 L41.6 476.6 L44.6 473.4 L48.3 475.8 L54.5 475.1 L61.9 471.6 L64.8 477.5 L68.1 473.4 L73 479.5 L77.2 486.9 L80.4 481.5 L84.1 482.5 L87.8 485.2 L91.5 485.7 L95.2 486.9 L97.7 485.2 L100.9 485.2 L104.4 492.4 L107.6 485.7 L110.8 481.5 L113.8 482.5 L116.7 485.7 L119.2 484 L122.4 485.7 L124.9 484.5 L128.1 476.6 L133.5 474.6 L137.2 478.3 L140.9 480.8 L144.6 482 L146.4 488.2 L149.6 492.4 L152.8 488.9 L155.8 489.9 L158.7 486.4 L161.9 484 L165.6 485.7 L169.3 490.6 L173.1 493.6 L176.8 490.6 L180.5 488.9 L184.2 486.4 L187.9 483.2 L191.6 480.8 L194.8 474.6 L197.3 470.4 L202.7 470.4 L206.4 469.2 L209.6 470.9 L212.5 475.8 L215.4 477.5 L218.6 485.7 L222.4 482 L226.1 477.1 L229.8 475.1 L233.5 476.3 L236.7 476.6 L239.6 481.5 L242.6 480 L245.8 477.5 L249 480 L251.5 483.7 L254.5 482.5 L257.4 477.5 L260.6 483.2 L263.9 483.2 L269.3 477.5 L271.8 480.8 L274.2 486.9 L276.7 490.1 L279.2 492.4 L282.1 491.1 L284.1 488.9 L287.8 482.5 L291 481.3 L293.5 479.5 L296.5 484.5 L299.4 481.3 L302.6 480 L305.8 482.5 L308.8 479 L311.8 480 L314.2 489.4 L318.7 489.4 L320.7 488.2 L323.6 492.4 L326.6 486.9 L329.1 486.4 L332.3 489.4 L336 489.4 L339.7 486.9 L344.1 485.2 L347.1 488.9 L350.8 489.4 L353.8 493.1 L356.2 488.7 L358.7 489.4 L361.9 486.9 L365.1 489.4 L367.6 485.2 L371.1 483.2 L374.3 485.2 L377.5 479 L380.5 484 L383.4 484.5 L385.9 482.5 L389.1 477.5 L394 477.5 L397.7 478.3 L400.7 477.1 L403.9 480 L407.6 483.2 L410.6 486.2 L413.7 483.2 L416.2 485.7 L422.4 482.5 L426.1 483.2 L429.3 481.5 L434.2 476.3 L437.2 477.5 L440.9 482.5 L445.8 486.2 L449 478.3 L452.5 480 L458.2 476.3 L461.4 475.3 L464.3 483.2 L467.3 485.7 L470.5 481.5 L473 483.2 L476.2 480.3 L482.1 479 L485.3 481.3 L488.6 482.5 L491.5 477.5 L494.5 476.3 L497 473.4 L500.2 480 L503.4 483.2 L508.8 483.2 L512.5 486.2 L515.7 482.5 L521.2 482.5 L524.1 474.6 L527.3 480.8 L530.6 477.1 L533.5 474.6 L539 472.1 L542.2 475.3 L545.9 473.4 L549.6 472.1 L554.5 470.1 L557.7 478.3 L560.7 484.5 L563.2 491.9 L566.4 498.1 L569.3 496.3 L573 493.1 L578.5 488.7 L581.7 493.9 L584.9 496.3 L587.4 490.1 L594 486.4 L597.7 487.4 L605.2 486.4 L608.4 492.4 L611.3 487.4 L613.7 486.4 L617.4 491.1 L620.4 493.1 L623.6 490.1 L626.8 490.1 L629.8 488.9 L632.7 491.1 L635.9 491.1 L639.1 492.4 L642.1 490.1 L644.6 491.4 L647.5 495.6 L650.8 490.1 L654 494.3 L656.9 496.8 L660.6 495.6 L664.3 493.1 L668.1 492.4 L671.3 499.3 L674.2 494.3 L677.9 491.4 L681.6 488.2 L684.1 486.9 L687.8 488.7 L691.5 489.4 L695.2 488.7 L698.9 484.5 L701.4 485.7 L706.3 483.7 L710 483.2 L713.8 480 L716.7 479 L719.9 479.5 L722.4 485.7 L725.6 483.2 L728.6 486.4 L731.5 489.4 L734.7 488.2 L737.2 486.9 L740.2 483.7 L743.4 488.2 L746.4 489.4 L749.6 490.6 L752.8 488.2 L755.3 488.9 L758.2 483.7 L761.2 482.5 L764.4 488.2 L766.9 483.7 L770.1 484.5 L773 478.8 L776 478.3 L779.2 476.3 L785.4 474.1 L788.4 478.3 L791.6 478.3 L794.8 477.1 L797.7 472.1 L800.2 471.4 L800.2 471.5 L16.9 471.5 Z" fill="#6c916c" clip-path="url(#c70)"/>
<g shape-rendering="crispEdges" stroke="#555" stroke-width="1" fill="none">
<path d="M17 471.5 H806"/>
<path d="M17 501.5 H806"/>
<path d="M17 486.5 H806" stroke-dasharray="7 3 2 3" stroke-dashoffset="2"/>
</g>
<path d="M16.9 474.6 L21.1 472.1 L23.6 472.9 L27.3 470.1 L31 469.2 L34.7 467.2 L38.4 469.6 L41.6 476.6 L44.6 473.4 L48.3 475.8 L54.5 475.1 L61.9 471.6 L64.8 477.5 L68.1 473.4 L73 479.5 L77.2 486.9 L80.4 481.5 L84.1 482.5 L87.8 485.2 L91.5 485.7 L95.2 486.9 L97.7 485.2 L100.9 485.2 L104.4 492.4 L107.6 485.7 L110.8 481.5 L113.8 482.5 L116.7 485.7 L119.2 484 L122.4 485.7 L124.9 484.5 L128.1 476.6 L133.5 474.6 L137.2 478.3 L140.9 480.8 L144.6 482 L146.4 488.2 L149.6 492.4 L152.8 488.9 L155.8 489.9 L158.7 486.4 L161.9 484 L165.6 485.7 L169.3 490.6 L173.1 493.6 L176.8 490.6 L180.5 488.9 L184.2 486.4 L187.9 483.2 L191.6 480.8 L194.8 474.6 L197.3 470.4 L202.7 470.4 L206.4 469.2 L209.6 470.9 L212.5 475.8 L215.4 477.5 L218.6 485.7 L222.4 482 L226.1 477.1 L229.8 475.1 L233.5 476.3 L236.7 476.6 L239.6 481.5 L242.6 480 L245.8 477.5 L249 480 L251.5 483.7 L254.5 482.5 L257.4 477.5 L260.6 483.2 L263.9 483.2 L269.3 477.5 L271.8 480.8 L274.2 486.9 L276.7 490.1 L279.2 492.4 L282.1 491.1 L284.1 488.9 L287.8 482.5 L291 481.3 L293.5 479.5 L296.5 484.5 L299.4 481.3 L302.6 480 L305.8 482.5 L308.8 479 L311.8 480 L314.2 489.4 L318.7 489.4 L320.7 488.2 L323.6 492.4 L326.6 486.9 L329.1 486.4 L332.3 489.4 L336 489.4 L339.7 486.9 L344.1 485.2 L347.1 488.9 L350.8 489.4 L353.8 493.1 L356.2 488.7 L358.7 489.4 L361.9 486.9 L365.1 489.4 L367.6 485.2 L371.1 483.2 L374.3 485.2 L377.5 479 L380.5 484 L383.4 484.5 L385.9 482.5 L389.1 477.5 L394 477.5 L397.7 478.3 L400.7 477.1 L403.9 480 L407.6 483.2 L410.6 486.2 L413.7 483.2 L416.2 485.7 L422.4 482.5 L426.1 483.2 L429.3 481.5 L434.2 476.3 L437.2 477.5 L440.9 482.5 L445.8 486.2 L449 478.3 L452.5 480 L458.2 476.3 L461.4 475.3 L464.3 483.2 L467.3 485.7 L470.5 481.5 L473 483.2 L476.2 480.3 L482.1 479 L485.3 481.3 L488.6 482.5 L491.5 477.5 L494.5 476.3 L497 473.4 L500.2 480 L503.4 483.2 L508.8 483.2 L512.5 486.2 L515.7 482.5 L521.2 482.5 L524.1 474.6 L527.3 480.8 L530.6 477.1 L533.5 474.6 L539 472.1 L542.2 475.3 L545.9 473.4 L549.6 472.1 L554.5 470.1 L557.7 478.3 L560.7 484.5 L563.2 491.9 L566.4 498.1 L569.3 496.3 L573 493.1 L578.5 488.7 L581.7 493.9 L584.9 496.3 L587.4 490.1 L594 486.4 L597.7 487.4 L605.2 486.4 L608.4 492.4 L611.3 487.4 L613.7 486.4 L617.4 491.1 L620.4 493.1 L623.6 490.1 L626.8 490.1 L629.8 488.9 L632.7 491.1 L635.9 491.1 L639.1 492.4 L642.1 490.1 L644.6 491.4 L647.5 495.6 L650.8 490.1 L654 494.3 L656.9 496.8 L660.6 495.6 L664.3 493.1 L668.1 492.4 L671.3 499.3 L674.2 494.3 L677.9 491.4 L681.6 488.2 L684.1 486.9 L687.8 488.7 L691.5 489.4 L695.2 488.7 L698.9 484.5 L701.4 485.7 L706.3 483.7 L710 483.2 L713.8 480 L716.7 479 L719.9 479.5 L722.4 485.7 L725.6 483.2 L728.6 486.4 L731.5 489.4 L734.7 488.2 L737.2 486.9 L740.2 483.7 L743.4 488.2 L746.4 489.4 L749.6 490.6 L752.8 488.2 L755.3 488.9 L758.2 483.7 L761.2 482.5 L764.4 488.2 L766.9 483.7 L770.1 484.5 L773 478.8 L776 478.3 L779.2 476.3 L785.4 474.1 L788.4 478.3 L791.6 478.3 L794.8 477.1 L797.7 472.1 L800.2 471.4" fill="none" stroke="#000" stroke-width="1" stroke-linejoin="round"/>
<g shape-rendering="crispEdges" stroke="#555" stroke-width="1" fill="none">
<path d="M17 551.5 H806"/>
<path d="M17 595.5 H806"/>
<path d="M17 573.5 H806" stroke-dasharray="7 3 2 3" stroke-dashoffset="2"/>
</g>
<clipPath id="cs"><rect x="17" y="530" width="789" height="86"/></clipPath>
<g fill="none" stroke-linejoin="round" clip-path="url(#cs)">
<path d="M17.3 546.8 L20.3 545 L23.3 543.6 L26.3 541.8 L29.3 542.5 L32.3 545.7 L35.3 549.3 L38.3 551.3 L41.3 552.6 L44.3 554 L47.3 557 L50.3 558.2 L53.3 559 L56.3 557.4 L59.3 554.5 L62.3 549.6 L65.3 546.7 L68.3 546.1 L71.3 548.8 L74.3 552 L77.3 559.3 L80.3 567.3 L83.3 575 L86.3 577.8 L89.3 580.4 L92.3 583 L95.3 586.3 L98.3 586.7 L101.3 585.9 L104.3 585.7 L107.3 586.1 L110.3 583.6 L113.3 575.4 L116.3 565.6 L119.3 558.8 L122.3 558.2 L125.3 558.8 L128.3 557.7 L131.3 553.5 L134.3 548.6 L137.3 547.3 L140.3 548.6 L143.3 553.1 L146.3 559.8 L149.3 570.5 L152.3 583.3 L155.3 594.3 L158.3 597.7 L161.3 595.2 L164.3 589.1 L167.3 585.9 L170.3 587.3 L173.3 592.8 L176.3 599 L179.3 601.7 L182.3 599.2 L185.3 592 L188.3 581.1 L191.3 567.8 L194.3 554.2 L197.3 544.5 L200.3 540.8 L203.3 542.2 L206.3 545.1 L209.3 547.2 L212.3 548.7 L215.3 551.6 L218.3 556.8 L221.3 562.8 L224.3 567.4 L227.3 566.6 L230.3 563 L233.3 557.9 L236.3 555.9 L239.3 556.5 L242.3 559.1 L245.3 561.5 L248.3 561.9 L251.3 560.9 L254.3 560.4 L257.3 559.8 L260.3 558.9 L263.3 557.7 L266.3 558.7 L269.3 558.5 L272.3 557.4 L275.3 561 L278.3 573.2 L281.3 589.3 L284.3 597.5 L287.3 594.2 L290.3 582.7 L293.3 569.5 L296.3 561.1 L299.3 556.7 L302.3 555.6 L305.3 553.7 L308.3 550.9 L311.3 548.9 L314.3 549.8 L317.3 557.4 L320.3 568.8 L323.3 580.5 L326.3 586.6 L329.3 588.4 L332.3 587 L335.3 586.7 L338.3 587.1 L341.3 587.1 L344.3 584.8 L347.3 582.9 L350.3 583.8 L353.3 588.7 L356.3 590.7 L359.3 589.9 L362.3 583.1 L365.3 579.3 L368.3 574.5 L371.3 569.7 L374.3 561.7 L377.3 554.7 L380.3 552.7 L383.3 553.5 L386.3 556.9 L389.3 556.6 L392.3 553.9 L395.3 547.5 L398.3 544.3 L401.3 543.9 L404.3 547.4 L407.3 551.3 L410.3 556.7 L413.3 563.3 L416.3 569.9 L419.3 574 L422.3 574.9 L425.3 573.6 L428.3 572.5 L431.3 570.4 L434.3 566.1 L437.3 559.3 L440.3 555.1 L443.3 556.7 L446.3 563.7 L449.3 568.3 L452.3 567.2 L455.3 560.9 L458.3 555.3 L461.3 551.3 L464.3 552.1 L467.3 557.1 L470.3 565.7 L473.3 571.7 L476.3 571.8 L479.3 567.4 L482.3 560.6 L485.3 556.1 L488.3 553.8 L491.3 554.1 L494.3 553.2 L497.3 549.8 L500.3 547.3 L503.3 549.2 L506.3 556 L509.3 563.7 L512.3 569.4 L515.3 571.9 L518.3 572.9 L521.3 572.7 L524.3 570.1 L527.3 567.1 L530.3 562.2 L533.3 559.4 L536.3 553.4 L539.3 547.8 L542.3 543.6 L545.3 542.6 L548.3 543 L551.3 541.5 L554.3 540 L557.3 540.5 L560.3 545.6 L563.3 557.6 L566.3 573.7 L569.3 588.8 L572.3 594.1 L575.3 590.8 L578.3 583.4 L581.3 579.8 L584.3 580.4 L587.3 583.1 L590.3 584.4 L593.3 582.5 L596.3 578.8 L599.3 574.7 L602.3 571.1 L605.3 566 L608.3 561.9 L611.3 559.5 L614.3 561.7 L617.3 565.8 L620.3 572.9 L623.3 580 L626.3 585.4 L629.3 586 L632.3 585 L635.3 584.8 L638.3 588.2 L641.3 591.3 L644.3 593.7 L647.3 594.9 L650.3 596 L653.3 597.3 L656.3 598 L659.3 599.3 L662.3 598.9 L665.3 596.8 L668.3 592.7 L671.3 590.4 L674.3 589.3 L677.3 588.5 L680.3 583.6 L683.3 576 L686.3 567.2 L689.3 560.8 L692.3 557.4 L695.3 556.4 L698.3 554.8 L701.3 552.1 L704.3 548.3 L707.3 545.8 L710.3 543.8 L713.3 542.1 L716.3 540.5 L719.3 539.9 L722.3 542.2 L725.3 546.7 L728.3 553.9 L731.3 561.2 L734.3 568.8 L737.3 575.6 L740.3 578 L743.3 578.2 L746.3 577.4 L749.3 582.4 L752.3 587.4 L755.3 591 L758.3 587.3 L761.3 580.5 L764.3 573.1 L767.3 568.6 L770.3 567.1 L773.3 561.8 L776.3 554.7 L779.3 546 L782.3 541.6 L785.3 539.7 L788.3 539.9 L791.3 541.2 L794.3 543.4 L797.3 545.4 L800.3 546.5" stroke="#ff0000" stroke-width="1.1"/>
<path d="M16.9 547.3 L21.1 542.3 L24.8 539.8 L28.5 543.8 L32.2 550.5 L34.7 552.4 L37.7 550.5 L40.9 554.2 L44.6 556.6 L47.5 560.3 L50.8 557.9 L54 559.1 L58.2 551.7 L62.4 543.8 L65.6 546.8 L68.8 548 L71.8 552.9 L74.7 556.6 L77.9 572.7 L80.4 576.4 L83.6 579.4 L86.1 577.6 L89.1 583.8 L92 586.8 L95.2 588 L98.4 585.1 L101.4 584.6 L104.4 587.5 L107.6 586.3 L110.8 575.2 L113.8 560.3 L116.7 556.6 L119.9 556.6 L122.4 561.1 L125.6 558.6 L129.1 551.7 L132.3 546.8 L134.7 543.8 L137.2 549.2 L140.9 552.9 L144.6 560.3 L147.8 577.6 L150.8 591.2 L153.3 599.4 L155.3 602.3 L158.2 594.9 L161.2 588.8 L164.4 583.8 L167.6 585.1 L170.6 593.7 L173.5 601.1 L176.8 604.1 L180 599.9 L182.9 591.2 L185.9 580.1 L189.1 564.1 L192.3 548 L195.3 538.1 L197.7 539.4 L201.5 543.1 L204.7 547.3 L207.6 548.5 L210.6 548 L213.7 551.7 L217.4 562.8 L221.1 567.8 L224.3 570.2 L227.3 561.6 L231 556.2 L234.2 554.2 L237.2 556.2 L240.9 561.6 L244.1 563.6 L247.1 561.6 L249.5 559.1 L252.5 559.6 L255 562.1 L258.2 557.1 L261.4 556.6 L264.3 558.6 L266.8 562.1 L269.3 556.2 L272.3 554.7 L274.7 567.8 L277.9 591.2 L281.6 604.1 L284.6 596.2 L287.8 580.1 L291 565.3 L293.5 556.6 L296.5 557.4 L300.2 554.7 L303.4 553.7 L306.3 550.5 L308.8 546.3 L312.5 548.7 L315 556.6 L318.2 575.2 L321.2 585.1 L323.6 590 L326.6 588 L329.8 587.5 L332.3 585.1 L335.5 587.5 L338.5 588.8 L341.4 585.1 L344.6 580.1 L347.8 583.3 L350.8 588.8 L353.8 596.9 L356.2 588.8 L359.5 585.1 L362.7 574 L365.6 577.6 L368.6 570.2 L371.8 559.1 L375 551.7 L377.5 549.7 L380 554.7 L382.9 555.4 L386.6 560.3 L389.8 552.9 L392.8 546.8 L395.3 540.6 L398.2 544.3 L401.5 546.8 L404.7 551.7 L407.6 556.6 L410.3 563 L413 570.2 L416.2 575.9 L419.9 575.2 L424.8 572 L428.5 572 L431.7 566.5 L434.7 557.9 L437.2 551.7 L440.1 553.7 L443.3 564.1 L446.6 573.4 L449.5 567.8 L452.5 560.3 L455.7 552.9 L458.9 551 L461.4 548.7 L464.3 556.2 L468.1 569 L470.5 575.2 L473.7 574 L476.7 565.3 L479.7 561.1 L482.1 553.7 L485.3 552.9 L488.6 554.9 L491.5 554.7 L494.5 549.7 L497.7 543.8 L500.9 548 L503.9 557.9 L506.8 566.5 L510 571 L513.3 574 L515.7 572.2 L518.7 573.4 L521.2 572.7 L524.1 564.8 L527.3 564.1 L529.8 557.9 L533 557.4 L536 546.8 L539 540.6 L542.2 543.8 L545.9 543.1 L548.8 541.8 L551.3 539.4 L554.5 538.6 L557.7 544.3 L560.7 556.2 L563.7 577.6 L566.9 594.9 L569.3 599.9 L572.5 590 L575.5 581.3 L578.5 577.6 L581.7 580.1 L584.9 584.3 L587.9 586.3 L590.8 583.3 L594 576.4 L597.3 574 L600.2 570.2 L602.7 566.5 L605.7 558.6 L608.9 559.1 L612.1 560 L613.7 565.3 L617.4 571.5 L620.4 581.3 L623.6 588.3 L626.8 587.5 L629.8 581.8 L632.7 585.1 L635.9 587.5 L639.1 594.9 L642.1 593.2 L645.1 594.9 L648.3 597.4 L650.8 596.7 L654 599.1 L656.9 598.6 L659.9 601.1 L663.1 596.2 L666.3 590.7 L668.8 587.5 L671.8 591.2 L674.7 588.8 L677.9 585.1 L681.1 572.7 L684.1 564.1 L687.1 557.9 L690.3 555.9 L695.2 556.6 L698.4 551.7 L701.4 548 L704.4 544.8 L707.6 544.3 L710.8 541.8 L713.8 539.4 L718.7 539.4 L721.7 545.5 L724.9 551.7 L728.1 561.6 L731 567.8 L734 575.2 L737.2 582.6 L740.2 575.7 L743.4 576.4 L746.4 580.1 L749.6 592 L752.8 591.2 L755.3 590.7 L758.2 580.1 L761.2 571 L764.4 568.5 L767.6 566 L770.6 566.5 L773.5 551.7 L776.8 543.8 L780 539.4 L785.9 539.4 L789.1 541.3 L792.3 544.3 L795.3 546.8 L800.2 546.8" stroke="#000" stroke-width="1.55"/>
</g>
<g font-family='"Liberation Sans", Arial, sans-serif' font-size="9.6px" text-anchor="middle" fill="#000" stroke="#000" stroke-width="0.15" style="text-rendering:geometricPrecision">
<text x="21.5" y="352">F</text>
<text x="33.5" y="352">M</text>
<text x="48.5" y="352">A</text>
<text x="60.5" y="352">M</text>
<text x="75.5" y="352">J</text>
<text x="87.5" y="352">J</text>
<text x="99.5" y="352">A</text>
<text x="114.5" y="352">S</text>
<text x="126.5" y="352">O</text>
<text x="138.5" y="352">N</text>
<text x="153.5" y="352">D</text>
<text x="163.6" y="352" font-weight="bold" font-size="10px" stroke-width="0.1">22</text>
<text x="180.5" y="352">F</text>
<text x="192.5" y="352">M</text>
<text x="204.5" y="352">A</text>
<text x="216.5" y="352">M</text>
<text x="231.5" y="352">J</text>
<text x="243.5" y="352">J</text>
<text x="255.5" y="352">A</text>
<text x="270.5" y="352">S</text>
<text x="282.5" y="352">O</text>
<text x="297.5" y="352">N</text>
<text x="309.5" y="352">D</text>
<text x="319.6" y="352" font-weight="bold" font-size="10px" stroke-width="0.1">23</text>
<text x="336.5" y="352">F</text>
<text x="348.5" y="352">M</text>
<text x="360.5" y="352">A</text>
<text x="372.5" y="352">M</text>
<text x="387.5" y="352">J</text>
<text x="399.5" y="352">J</text>
<text x="414.5" y="352">A</text>
<text x="426.5" y="352">S</text>
<text x="438.5" y="352">O</text>
<text x="453.5" y="352">N</text>
<text x="465.5" y="352">D</text>
<text x="475.6" y="352" font-weight="bold" font-size="10px" stroke-width="0.1">24</text>
<text x="492.5" y="352">F</text>
<text x="504.5" y="352">M</text>
<text x="516.5" y="352">A</text>
<text x="531.5" y="352">M</text>
<text x="543.5" y="352">J</text>
<text x="555.5" y="352">J</text>
<text x="570.5" y="352">A</text>
<text x="582.5" y="352">S</text>
<text x="597.5" y="352">O</text>
<text x="609.5" y="352">N</text>
<text x="621.5" y="352">D</text>
<text x="634.6" y="352" font-weight="bold" font-size="10px" stroke-width="0.1">25</text>
<text x="648.5" y="352">F</text>
<text x="660.5" y="352">M</text>
<text x="675.5" y="352">A</text>
<text x="687.5" y="352">M</text>
<text x="699.5" y="352">J</text>
<text x="714.5" y="352">J</text>
<text x="726.5" y="352">A</text>
<text x="738.5" y="352">S</text>
<text x="753.5" y="352">O</text>
<text x="765.5" y="352">N</text>
<text x="777.5" y="352">D</text>
<text x="790.6" y="352" font-weight="bold" font-size="10px" stroke-width="0.1">26</text>
</g>
<g font-family='"Liberation Sans", Arial, sans-serif' font-size="9.6px" text-anchor="middle" fill="#000" stroke="#000" stroke-width="0.15" style="text-rendering:geometricPrecision">
<text x="21.5" y="627">F</text>
<text x="33.5" y="627">M</text>
<text x="48.5" y="627">A</text>
<text x="60.5" y="627">M</text>
<text x="75.5" y="627">J</text>
<text x="87.5" y="627">J</text>
<text x="99.5" y="627">A</text>
<text x="114.5" y="627">S</text>
<text x="126.5" y="627">O</text>
<text x="138.5" y="627">N</text>
<text x="153.5" y="627">D</text>
<text x="163.6" y="627" font-weight="bold" font-size="10px" stroke-width="0.1">22</text>
<text x="180.5" y="627">F</text>
<text x="192.5" y="627">M</text>
<text x="204.5" y="627">A</text>
<text x="216.5" y="627">M</text>
<text x="231.5" y="627">J</text>
<text x="243.5" y="627">J</text>
<text x="255.5" y="627">A</text>
<text x="270.5" y="627">S</text>
<text x="282.5" y="627">O</text>
<text x="297.5" y="627">N</text>
<text x="309.5" y="627">D</text>
<text x="319.6" y="627" font-weight="bold" font-size="10px" stroke-width="0.1">23</text>
<text x="336.5" y="627">F</text>
<text x="348.5" y="627">M</text>
<text x="360.5" y="627">A</text>
<text x="372.5" y="627">M</text>
<text x="387.5" y="627">J</text>
<text x="399.5" y="627">J</text>
<text x="414.5" y="627">A</text>
<text x="426.5" y="627">S</text>
<text x="438.5" y="627">O</text>
<text x="453.5" y="627">N</text>
<text x="465.5" y="627">D</text>
<text x="475.6" y="627" font-weight="bold" font-size="10px" stroke-width="0.1">24</text>
<text x="492.5" y="627">F</text>
<text x="504.5" y="627">M</text>
<text x="516.5" y="627">A</text>
<text x="531.5" y="627">M</text>
<text x="543.5" y="627">J</text>
<text x="555.5" y="627">J</text>
<text x="570.5" y="627">A</text>
<text x="582.5" y="627">S</text>
<text x="597.5" y="627">O</text>
<text x="609.5" y="627">N</text>
<text x="621.5" y="627">D</text>
<text x="634.6" y="627" font-weight="bold" font-size="10px" stroke-width="0.1">25</text>
<text x="648.5" y="627">F</text>
<text x="660.5" y="627">M</text>
<text x="675.5" y="627">A</text>
<text x="687.5" y="627">M</text>
<text x="699.5" y="627">J</text>
<text x="714.5" y="627">J</text>
<text x="726.5" y="627">A</text>
<text x="738.5" y="627">S</text>
<text x="753.5" y="627">O</text>
<text x="765.5" y="627">N</text>
<text x="777.5" y="627">D</text>
<text x="790.6" y="627" font-weight="bold" font-size="10px" stroke-width="0.1">26</text>
</g>
<g font-family='"Liberation Sans", Arial, sans-serif' font-size="9.8px" fill="#000" stroke="#000" stroke-width="0.2" style="text-rendering:geometricPrecision">
<text x="809.8" y="105" textLength="20.3" lengthAdjust="spacing">1.00</text>
<text x="809.8" y="122.1" textLength="20.3" lengthAdjust="spacing">0.98</text>
<text x="809.8" y="139.2" textLength="20.3" lengthAdjust="spacing">0.96</text>
<text x="809.8" y="156.2" textLength="20.3" lengthAdjust="spacing">0.94</text>
<text x="809.8" y="173.3" textLength="20.3" lengthAdjust="spacing">0.92</text>
<text x="809.8" y="190.4" textLength="20.3" lengthAdjust="spacing">0.90</text>
<text x="809.8" y="207.5" textLength="20.3" lengthAdjust="spacing">0.88</text>
<text x="809.8" y="224.6" textLength="20.3" lengthAdjust="spacing">0.86</text>
<text x="809.8" y="241.6" textLength="20.3" lengthAdjust="spacing">0.84</text>
<text x="809.8" y="258.7" textLength="20.3" lengthAdjust="spacing">0.82</text>
<text x="809.8" y="275.8" textLength="20.3" lengthAdjust="spacing">0.80</text>
<text x="809.8" y="292.9" textLength="20.3" lengthAdjust="spacing">0.78</text>
<text x="809.8" y="310" textLength="20.3" lengthAdjust="spacing">0.76</text>
<text x="809.8" y="327" textLength="20.3" lengthAdjust="spacing">0.74</text>
<text x="813" y="368" textLength="20.3" lengthAdjust="spacing">0.02</text>
<text x="813" y="406.7" textLength="20.3" lengthAdjust="spacing">0.00</text>
<text x="809.8" y="426.1">-0.01</text>
<text x="811" y="460">90</text>
<text x="811" y="489.2">50</text>
<text x="811" y="503.8">30</text>
<text x="811" y="518.4">10</text>
<text x="811" y="554.7">80</text>
<text x="811" y="576.6">50</text>
<text x="811" y="598.4">20</text>
</g>
<path d="M804.2 207.4 L808 202.5 H831.7 V212.3 H808 Z" fill="#fff" stroke="#d8103c" stroke-width="1.2" stroke-linejoin="miter"/>
<text x="808.6" y="211" font-family='"Liberation Sans", Arial, sans-serif' font-size="9.8px" stroke="#000" stroke-width="0.2" style="text-rendering:geometricPrecision" textLength="21.2" lengthAdjust="spacing">0.88</text>
<path d="M804.2 209.4 L808 204.3 H831.7 V214.5 H808 Z" fill="#fff" stroke="#1515a0" stroke-width="1.2" stroke-linejoin="miter"/>
<text x="808.6" y="213" font-family='"Liberation Sans", Arial, sans-serif' font-size="9.8px" stroke="#000" stroke-width="0.2" style="text-rendering:geometricPrecision" textLength="21.2" lengthAdjust="spacing">0.87</text>
<path d="M804.2 195.4 L808 190.6 H831.7 V200.2 H808 Z" fill="#fff" stroke="#117311" stroke-width="1.2" stroke-linejoin="miter"/>
<text x="808.6" y="199" font-family='"Liberation Sans", Arial, sans-serif' font-size="9.8px" stroke="#000" stroke-width="0.2" style="text-rendering:geometricPrecision" textLength="21.2" lengthAdjust="spacing">0.89</text>
<path d="M804.2 160.8 L808 155.9 H831.7 V165.8 H808 Z" fill="#fff" stroke="#000" stroke-width="1.4" stroke-linejoin="miter"/>
<text x="808.6" y="164.7" font-family='"Liberation Serif", "DejaVu Serif", serif' font-weight="bold" font-size="12px" stroke="#000" stroke-width="0.35" textLength="20.6" lengthAdjust="spacingAndGlyphs">0.93</text>
<path d="M804.2 395.8 L808 391.1 H837.4 V400.6 H808 Z" fill="#fff" stroke="#3b78b5" stroke-width="1.1" stroke-linejoin="miter"/>
<text x="808.6" y="399.4" font-family='"Liberation Sans", Arial, sans-serif' font-size="9.8px" stroke="#000" stroke-width="0.2" style="text-rendering:geometricPrecision" textLength="27.4" lengthAdjust="spacing">0.004</text>
<path d="M804.2 385.8 L808 381.1 H837.4 V390.6 H808 Z" fill="#fff" stroke="#ff0000" stroke-width="1.1" stroke-linejoin="miter"/>
<text x="808.6" y="389.4" font-family='"Liberation Sans", Arial, sans-serif' font-size="9.8px" stroke="#000" stroke-width="0.2" style="text-rendering:geometricPrecision" textLength="27.4" lengthAdjust="spacing">0.009</text>
<path d="M804.2 377.2 L808 372.4 H837.4 V381.9 H808 Z" fill="#fff" stroke="#000" stroke-width="1.1" stroke-linejoin="miter"/>
<text x="808.6" y="380.8" font-family='"Liberation Sans", Arial, sans-serif' font-size="9.8px" stroke="#000" stroke-width="0.2" style="text-rendering:geometricPrecision" textLength="27.4" lengthAdjust="spacing">0.013</text>
<path d="M804.2 470.4 L808 465.6 H837.4 V475.1 H808 Z" fill="#fff" stroke="#000" stroke-width="1.1" stroke-linejoin="miter"/>
<text x="808.6" y="474" font-family='"Liberation Sans", Arial, sans-serif' font-size="9.8px" stroke="#000" stroke-width="0.2" style="text-rendering:geometricPrecision" textLength="27.4" lengthAdjust="spacing">69.95</text>
<path d="M804.2 547.2 L808 542.5 H837.4 V552 H808 Z" fill="#fff" stroke="#ff0000" stroke-width="1.1" stroke-linejoin="miter"/>
<text x="808.6" y="550.8" font-family='"Liberation Sans", Arial, sans-serif' font-size="9.8px" stroke="#000" stroke-width="0.2" style="text-rendering:geometricPrecision" textLength="27.4" lengthAdjust="spacing">85.79</text>
<path d="M804.2 546.5 L808 541.8 H837.4 V551.2 H808 Z" fill="#fff" stroke="#000" stroke-width="1.1" stroke-linejoin="miter"/>
<text x="808.6" y="550.1" font-family='"Liberation Sans", Arial, sans-serif' font-size="9.8px" stroke="#000" stroke-width="0.2" style="text-rendering:geometricPrecision" textLength="27.4" lengthAdjust="spacing">86.28</text>
<g shape-rendering="crispEdges" fill="#fff">
<rect x="17" y="92" width="147" height="12"/>
<rect x="17" y="104" width="68" height="11"/>
<rect x="17" y="115" width="73" height="11"/>
<rect x="17" y="126" width="68" height="11"/>
<rect x="17" y="137" width="76" height="11"/>
</g>
<g shape-rendering="crispEdges" fill="#000"><rect x="19" y="95" width="3" height="4"/><rect x="20" y="94" width="1" height="7"/><rect x="20" y="96" width="1" height="2" fill="#fff"/><rect x="22" y="97" width="3" height="4"/><rect x="23" y="101" width="1" height="1"/><rect x="25" y="95" width="3" height="6"/><rect x="26" y="94" width="1" height="8"/><rect x="26" y="96" width="1" height="4" fill="#fff"/></g>
<g font-family='"DejaVu Sans", Verdana, sans-serif' stroke-width="0.08">
<text x="31.4" y="0" transform="translate(0,102) scale(1,0.93)" font-size="10px" stroke="#000" textLength="132" lengthAdjust="spacing">$NZDJPY (Weekly) 0.93</text>
<rect x="19" y="109" width="9" height="2" fill="#10109a" shape-rendering="crispEdges"/>
<text x="29.2" y="112.7" font-size="9px" fill="#10109a" stroke="#10109a" stroke-width="0.2" textLength="54.2" lengthAdjust="spacingAndGlyphs">MA(50) 0.87</text>
<rect x="19" y="120" width="9" height="2" fill="#d8103c" shape-rendering="crispEdges"/>
<text x="29.2" y="123.7" font-size="9px" fill="#d8103c" stroke="#d8103c" stroke-width="0.2" textLength="59.2" lengthAdjust="spacingAndGlyphs">MA(200) 0.88</text>
<rect x="19" y="131" width="9" height="2" fill="#0a6a0a" shape-rendering="crispEdges"/>
<text x="29.2" y="134.7" font-size="9px" fill="#0a6a0a" stroke="#0a6a0a" stroke-width="0.2" textLength="54.2" lengthAdjust="spacingAndGlyphs">MA(20) 0.89</text>
<g shape-rendering="crispEdges" fill="#444"><rect x="19" y="140" width="3" height="5"/><rect x="22" y="137" width="3" height="8"/><rect x="25" y="139" width="3" height="6"/><g fill="#9a9a9a"><rect x="20" y="141" width="1" height="4"/><rect x="23" y="138" width="1" height="7"/><rect x="26" y="140" width="1" height="5"/></g></g>
<text x="29.2" y="144.9" font-size="9px" fill="#505050" stroke="#505050" stroke-width="0.15" textLength="62" lengthAdjust="spacingAndGlyphs">Volume undef</text>
<rect x="17" y="356" width="216" height="11" fill="#fff" shape-rendering="crispEdges"/>
<rect x="19" y="361" width="9" height="2" fill="#000" shape-rendering="crispEdges"/>
<text x="31.4" y="0" transform="translate(0,366) scale(1,0.93)" font-size="10px" textLength="200.3" lengthAdjust="spacing"><tspan stroke="#000">MACD(12,26,9) 0.013</tspan><tspan fill="#ff0000" stroke="#ff0000">, 0.009</tspan><tspan fill="#2f86c0" stroke="#2f86c0">, 0.004</tspan></text>
<rect x="17" y="443" width="95" height="11" fill="#fff" shape-rendering="crispEdges"/>
<path d="M19.5 452.8 L19.5 450 L21.2 447 L23.6 444.4 L25.6 450.2 L27.5 446.8 L27.5 452.8 Z" fill="#7fa87f"/><path d="M19.5 453 L19.5 450 L21.2 447 L23.6 444.4 L25.6 450.2 L27.5 446.8 L27.5 453" fill="none" stroke="#000" stroke-width="1.2" stroke-linejoin="round"/>
<text x="31.4" y="0" transform="translate(0,453) scale(1,0.93)" font-size="10px" stroke="#000" textLength="79.5" lengthAdjust="spacing">RSI(14) 69.95</text>
<rect x="17" y="530" width="228" height="11" fill="#fff" shape-rendering="crispEdges"/>
<rect x="19" y="535" width="9" height="2" fill="#000" shape-rendering="crispEdges"/>
<text x="31.4" y="0" transform="translate(0,540) scale(1,0.93)" font-size="10px" textLength="212.2" lengthAdjust="spacing"><tspan stroke="#000">Slow STO %K(14) %D(3) 86.28</tspan><tspan fill="#ff0000" stroke="#ff0000">, 85.79</tspan></text>
</g>
<g font-family='"Liberation Sans", Arial, sans-serif' fill="#000">
<text x="16" y="16" font-size="13px" font-weight="bold" textLength="56.1" lengthAdjust="spacingAndGlyphs">$NZDJPY</text>
<text x="75" y="15.3" font-size="11px" textLength="180.5" lengthAdjust="spacingAndGlyphs">New Zealand Dollar to Japanese Yen</text>
<text x="261" y="0" transform="translate(0,15.2) scale(1,0.87)" font-size="9px" font-family='"DejaVu Sans", Verdana, sans-serif' textLength="34.2" lengthAdjust="spacing">FOREX</text>
<text x="19" y="44.8" font-size="11px" textLength="28.9" lengthAdjust="spacingAndGlyphs">Open:</text>
<text x="77.8" y="45.2" font-size="12px" font-weight="bold" textLength="30.3" lengthAdjust="spacingAndGlyphs">0.925</text>
<text x="136.2" y="44.8" font-size="11px" textLength="21.6" lengthAdjust="spacingAndGlyphs">Ask:</text>
<text x="263" y="44.8" font-size="11px" textLength="41" lengthAdjust="spacingAndGlyphs">Mkt Cap:</text>
<text x="382.2" y="44.8" font-size="11px" textLength="17.9" lengthAdjust="spacingAndGlyphs">P/E:</text>
<text x="19" y="59" font-size="11px" textLength="23.5" lengthAdjust="spacingAndGlyphs">High:</text>
<text x="77.8" y="59.4" font-size="12px" font-weight="bold" textLength="30.3" lengthAdjust="spacingAndGlyphs">0.933</text>
<text x="136.2" y="59" font-size="11px" textLength="17.4" lengthAdjust="spacingAndGlyphs">Bid:</text>
<text x="263" y="59" font-size="11px" textLength="69.3" lengthAdjust="spacingAndGlyphs">Fwd Dividend:</text>
<text x="382.2" y="59" font-size="11px" textLength="22.1" lengthAdjust="spacingAndGlyphs">EPS:</text>
<text x="19" y="73.7" font-size="11px" textLength="24.6" lengthAdjust="spacingAndGlyphs">Low:</text>
<text x="77.8" y="74.1" font-size="12px" font-weight="bold" textLength="30.3" lengthAdjust="spacingAndGlyphs">0.914</text>
<text x="136.2" y="73.7" font-size="11px" textLength="23.5" lengthAdjust="spacingAndGlyphs">Last:</text>
<text x="263" y="73.7" font-size="11px" textLength="52.3" lengthAdjust="spacingAndGlyphs">Fwd Yield:</text>
<text x="382.2" y="73.7" font-size="11px" textLength="69.3" lengthAdjust="spacingAndGlyphs">Last Earnings:</text>
<text x="19" y="87.9" font-size="11px" textLength="54.5" lengthAdjust="spacingAndGlyphs">Prev Close:</text>
<text x="77.8" y="88.3" font-size="12px" font-weight="bold" textLength="30.3" lengthAdjust="spacingAndGlyphs">0.927</text>
<text x="136.2" y="87.9" font-size="11px" textLength="53.4" lengthAdjust="spacingAndGlyphs">Optionable:</text>
<text x="263" y="87.9" font-size="11px" textLength="29.7" lengthAdjust="spacingAndGlyphs">SCTR:</text>
<text x="382.2" y="87.9" font-size="11px" textLength="70.1" lengthAdjust="spacingAndGlyphs">Next Earnings:</text>
<text x="221.6" y="88.3" font-size="12px" font-weight="bold" textLength="14.3" lengthAdjust="spacingAndGlyphs">no</text>
<text x="336" y="59.4" font-size="12px" font-weight="bold" textLength="18.7" lengthAdjust="spacingAndGlyphs">N/A</text>
<text x="336" y="74.1" font-size="12px" font-weight="bold" textLength="18.7" lengthAdjust="spacingAndGlyphs">N/A</text>
<text x="644.8" y="30" font-size="11px" textLength="157.1" lengthAdjust="spacingAndGlyphs">Thursday  29-Jan-2026  9:47 pm</text>
<text x="752.5" y="46.3" font-size="15px" font-weight="bold" fill="#2d6b2d" textLength="49.4" lengthAdjust="spacingAndGlyphs">+0.45%</text>
<path d="M737 45.8 L743 33.8 L749 45.8 Z" fill="#2d6b2d"/>
<text x="733.2" y="59" font-size="11px" textLength="21.9" lengthAdjust="spacingAndGlyphs">Chg:</text>
<text x="801.4" y="59.4" font-size="12px" font-weight="bold" text-anchor="end">+0.004</text>
<text x="733.2" y="73.7" font-size="11px" textLength="23.5" lengthAdjust="spacingAndGlyphs">Last:</text>
<text x="801.4" y="74.1" font-size="12px" font-weight="bold" text-anchor="end">0.931</text>
<text x="733.2" y="87.9" font-size="11px" textLength="38.4" lengthAdjust="spacingAndGlyphs">Volume:</text>
<text x="801.4" y="88.3" font-size="12px" font-weight="bold" text-anchor="end">0</text>
</g>
<text x="716.6" y="14.8" font-family='"DejaVu Sans", Verdana, sans-serif' font-size="9.5px" fill="#505050" textLength="89.8" lengthAdjust="spacingAndGlyphs">©StockCharts.com</text>
</svg>
</body></html>
